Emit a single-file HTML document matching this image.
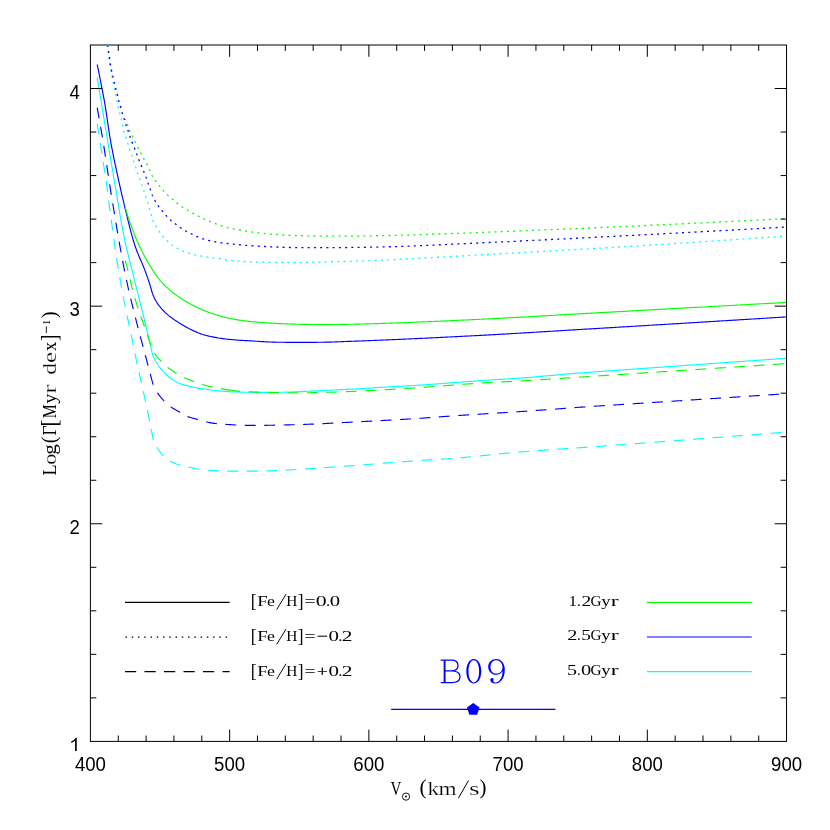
<!DOCTYPE html>
<html><head><meta charset="utf-8"><title>plot</title>
<style>html,body{margin:0;padding:0;background:#fff;overflow:hidden}svg{display:block;will-change:transform}</style>
</head><body>
<svg width="830" height="830" viewBox="0 0 830 830">
<rect x="0" y="0" width="830" height="830" fill="#ffffff"/>
<defs><clipPath id="c"><rect x="90.40" y="44.00" width="696.65" height="697.40"/></clipPath></defs>
<g fill="none" clip-path="url(#c)">
<path d="M97.20 77.60 L97.44 79.09 L97.69 80.59 L97.93 82.08 L98.18 83.58 L98.42 85.07 L98.67 86.57 L98.91 88.06 L99.16 89.56 L99.40 91.05 L99.65 92.55 L99.89 94.04 L100.14 95.54 L100.39 97.03 L100.63 98.53 L100.88 100.02 L101.12 101.52 L101.37 103.01 L101.62 104.51 L101.86 106.00 L102.11 107.50 L102.36 108.99 L102.60 110.48 L102.85 111.98 L103.10 113.47 L103.34 114.97 L103.59 116.46 L103.84 117.96 L104.09 119.45 L104.33 120.95 L104.58 122.44 L104.83 123.94 L105.08 125.43 L105.33 126.92 L105.57 128.42 L105.82 129.91 L106.07 131.41 L106.32 132.90 L106.57 134.40 L106.82 135.89 L107.06 137.38 L107.31 138.88 L107.56 140.37 L107.81 141.87 L108.06 143.36 L108.31 144.86 L108.56 146.35 L108.81 147.84 L109.06 149.34 L109.30 150.83 L109.55 152.33 L109.80 153.82 L110.05 155.31 L110.30 156.81 L110.55 158.30 L110.80 159.80 L111.05 161.29 L111.30 162.79 L111.55 164.28 L111.80 165.77 L112.05 167.27 L112.30 168.76 L112.55 170.26 L112.80 171.75 L113.06 173.24 L113.31 174.74 L113.56 176.23 L113.81 177.72 L114.07 179.22 L114.32 180.71 L114.57 182.20 L114.83 183.70 L115.08 185.19 L115.34 186.68 L115.60 188.18 L115.85 189.67 L116.11 191.16 L116.36 192.66 L116.61 194.15 L116.86 195.65 L117.11 197.14 L117.35 198.64 L117.60 200.13 L117.85 201.63 L118.09 203.12 L118.34 204.62 L118.59 206.11 L118.84 207.61 L119.08 209.11 L119.33 210.60 L119.58 212.10 L119.83 213.59 L120.09 215.08 L120.34 216.58 L120.60 218.07 L120.85 219.57 L121.11 221.06 L121.38 222.55 L121.64 224.04 L121.91 225.53 L122.18 227.02 L122.45 228.51 L122.73 230.00 L123.01 231.49 L123.29 232.97 L123.58 234.46 L123.88 235.94 L124.17 237.43 L124.48 238.91 L124.78 240.39 L125.10 241.87 L125.43 243.35 L125.76 244.83 L126.11 246.30 L126.46 247.77 L126.82 249.25 L127.18 250.72 L127.54 252.19 L127.91 253.66 L128.28 255.13 L128.65 256.60 L129.02 258.07 L129.39 259.54 L129.76 261.01 L130.12 262.48 L130.48 263.95 L130.84 265.42 L131.20 266.89 L131.57 268.36 L131.93 269.83 L132.30 271.30 L132.66 272.77 L133.03 274.24 L133.40 275.71 L133.77 277.18 L134.13 278.65 L134.50 280.12 L134.87 281.59 L135.24 283.06 L135.61 284.53 L135.99 286.00 L136.36 287.46 L136.73 288.93 L137.10 290.40 L137.47 291.87 L137.84 293.34 L138.21 294.81 L138.58 296.28 L138.95 297.75 L139.32 299.22 L139.69 300.69 L140.05 302.15 L140.42 303.62 L140.79 305.09 L141.15 306.56 L141.52 308.03 L141.88 309.50 L142.25 310.97 L142.61 312.45 L142.97 313.92 L143.33 315.39 L143.69 316.86 L144.05 318.33 L144.40 319.80 L144.76 321.28 L145.11 322.75 L145.46 324.22 L145.81 325.70 L146.16 327.17 L146.51 328.65 L146.85 330.12 L147.20 331.60 L147.54 333.07 L147.89 334.55 L148.23 336.02 L148.58 337.50 L148.92 338.97 L149.27 340.45 L149.61 341.92 L149.96 343.40 L150.30 344.87 L150.65 346.35 L150.99 347.82 L151.33 349.30 L151.67 350.77 L152.02 352.25 L152.36 353.72 L152.70 355.20 L153.31 356.60 L153.96 357.99 L154.64 359.34 L155.36 360.67 L156.11 361.98 L156.89 363.26 L157.69 364.52 L158.52 365.76 L159.38 366.97 L160.29 368.16 L161.25 369.33 L162.25 370.47 L163.28 371.58 L164.34 372.67 L165.41 373.72 L166.50 374.75 L167.61 375.78 L168.75 376.78 L169.93 377.75 L171.13 378.68 L172.35 379.54 L173.61 380.32 L174.90 381.06 L176.23 381.77 L177.59 382.44 L178.98 383.08 L180.38 383.66 L181.80 384.19 L183.21 384.67 L184.63 385.10 L186.08 385.51 L187.53 385.89 L188.99 386.25 L190.47 386.59 L191.95 386.91 L193.43 387.22 L194.92 387.51 L196.40 387.80 L197.88 388.07 L199.36 388.33 L200.84 388.59 L202.33 388.83 L203.82 389.06 L205.31 389.28 L206.80 389.49 L208.29 389.69 L209.79 389.87 L211.28 390.05 L212.77 390.22 L214.27 390.40 L215.77 390.56 L217.27 390.73 L218.77 390.88 L220.27 391.03 L221.77 391.16 L223.27 391.29 L224.77 391.40 L226.27 391.50 L227.77 391.58 L229.27 391.65 L230.78 391.72 L232.28 391.78 L233.78 391.85 L235.29 391.91 L236.79 391.97 L238.30 392.02 L239.80 392.07 L241.31 392.12 L242.81 392.16 L244.32 392.20 L245.82 392.23 L247.33 392.26 L248.84 392.28 L250.34 392.29 L251.85 392.30 L253.35 392.30 L254.86 392.30 L256.36 392.30 L257.87 392.30 L259.37 392.30 L260.88 392.30 L262.38 392.30 L263.89 392.30 L265.40 392.30 L266.90 392.30 L268.41 392.30 L269.91 392.30 L271.42 392.30 L272.92 392.30 L274.43 392.30 L275.93 392.30 L277.44 392.30 L278.94 392.29 L280.45 392.27 L281.95 392.24 L283.46 392.21 L284.96 392.17 L286.47 392.13 L287.97 392.08 L289.48 392.02 L290.98 391.97 L292.49 391.91 L293.99 391.85 L295.50 391.79 L297.00 391.73 L298.51 391.68 L300.01 391.62 L301.51 391.56 L303.02 391.50 L304.52 391.44 L306.03 391.37 L307.53 391.29 L309.03 391.22 L310.54 391.14 L312.04 391.06 L313.54 390.98 L315.05 390.90 L316.55 390.82 L318.05 390.74 L319.56 390.66 L321.06 390.58 L322.56 390.50 L324.07 390.43 L325.57 390.35 L327.07 390.28 L328.58 390.22 L330.08 390.15 L331.59 390.08 L333.09 390.02 L334.59 389.95 L336.10 389.89 L337.60 389.82 L339.11 389.75 L340.61 389.69 L342.11 389.62 L343.62 389.55 L345.12 389.48 L346.63 389.41 L348.13 389.33 L349.63 389.25 L351.13 389.17 L352.64 389.09 L354.14 389.00 L355.64 388.91 L357.15 388.82 L358.65 388.73 L360.15 388.64 L361.65 388.55 L363.16 388.45 L364.66 388.36 L366.16 388.26 L367.66 388.17 L369.17 388.07 L370.67 387.98 L372.17 387.88 L373.67 387.79 L375.18 387.69 L376.68 387.60 L378.18 387.51 L379.68 387.42 L381.19 387.33 L382.69 387.24 L384.19 387.16 L385.70 387.07 L387.20 386.99 L388.70 386.90 L390.21 386.82 L391.71 386.73 L393.21 386.65 L394.71 386.57 L396.22 386.48 L397.72 386.40 L399.22 386.32 L400.73 386.23 L402.23 386.15 L403.73 386.07 L405.24 385.98 L406.74 385.90 L408.24 385.81 L409.75 385.72 L411.25 385.64 L412.75 385.55 L414.25 385.46 L415.76 385.37 L417.26 385.27 L418.76 385.18 L420.26 385.08 L421.77 384.99 L423.27 384.89 L424.77 384.79 L426.27 384.68 L427.77 384.58 L429.27 384.48 L430.78 384.37 L432.28 384.26 L433.78 384.15 L435.28 384.05 L436.78 383.94 L438.28 383.82 L439.78 383.71 L441.29 383.60 L442.79 383.49 L444.29 383.37 L445.79 383.26 L447.29 383.14 L448.79 383.03 L450.29 382.91 L451.79 382.80 L453.29 382.68 L454.80 382.57 L456.30 382.45 L457.80 382.34 L459.30 382.22 L460.80 382.11 L462.30 381.99 L463.80 381.88 L465.30 381.76 L466.80 381.65 L468.31 381.54 L469.81 381.43 L471.31 381.32 L472.81 381.21 L474.31 381.10 L475.81 380.99 L477.31 380.89 L478.82 380.78 L480.32 380.68 L481.82 380.58 L483.32 380.48 L484.82 380.38 L486.33 380.28 L487.83 380.18 L489.33 380.09 L490.83 379.99 L492.34 379.90 L493.84 379.80 L495.34 379.71 L496.84 379.62 L498.35 379.52 L499.85 379.43 L501.35 379.34 L502.85 379.24 L504.36 379.15 L505.86 379.05 L507.36 378.96 L508.86 378.86 L510.37 378.76 L511.87 378.67 L513.37 378.56 L514.87 378.46 L516.37 378.36 L517.88 378.25 L519.38 378.15 L520.88 378.04 L522.38 377.92 L523.88 377.81 L525.38 377.69 L526.88 377.57 L528.38 377.45 L529.88 377.33 L531.38 377.21 L532.88 377.08 L534.38 376.96 L535.88 376.83 L537.38 376.70 L538.88 376.57 L540.38 376.44 L541.88 376.31 L543.38 376.18 L544.88 376.04 L546.38 375.91 L547.88 375.78 L549.38 375.64 L550.88 375.51 L552.38 375.37 L553.88 375.24 L555.38 375.10 L556.88 374.97 L558.38 374.83 L559.88 374.70 L561.38 374.57 L562.88 374.43 L564.38 374.30 L565.88 374.17 L567.38 374.04 L568.88 373.91 L570.38 373.79 L571.88 373.66 L573.38 373.53 L574.88 373.41 L576.38 373.29 L577.88 373.17 L579.38 373.05 L580.88 372.93 L582.38 372.82 L583.88 372.70 L585.38 372.59 L586.88 372.48 L588.38 372.36 L589.88 372.25 L591.39 372.14 L592.89 372.03 L594.39 371.92 L595.89 371.81 L597.39 371.71 L598.89 371.60 L600.40 371.49 L601.90 371.38 L603.40 371.28 L604.90 371.17 L606.40 371.07 L607.90 370.96 L609.41 370.85 L610.91 370.75 L612.41 370.64 L613.91 370.53 L615.41 370.43 L616.91 370.32 L618.42 370.21 L619.92 370.11 L621.42 370.00 L622.92 369.89 L624.42 369.78 L625.92 369.67 L627.42 369.57 L628.93 369.46 L630.43 369.35 L631.93 369.24 L633.43 369.14 L634.93 369.03 L636.43 368.92 L637.94 368.81 L639.44 368.71 L640.94 368.60 L642.44 368.49 L643.94 368.38 L645.44 368.28 L646.94 368.17 L648.45 368.06 L649.95 367.95 L651.45 367.85 L652.95 367.74 L654.45 367.63 L655.95 367.52 L657.46 367.42 L658.96 367.31 L660.46 367.20 L661.96 367.09 L663.46 366.99 L664.96 366.88 L666.47 366.77 L667.97 366.67 L669.47 366.56 L670.97 366.45 L672.47 366.34 L673.97 366.24 L675.47 366.13 L676.98 366.02 L678.48 365.92 L679.98 365.81 L681.48 365.70 L682.98 365.59 L684.48 365.49 L685.99 365.38 L687.49 365.27 L688.99 365.17 L690.49 365.06 L691.99 364.95 L693.49 364.85 L695.00 364.74 L696.50 364.63 L698.00 364.53 L699.50 364.42 L701.00 364.31 L702.50 364.21 L704.01 364.10 L705.51 363.99 L707.01 363.89 L708.51 363.78 L710.01 363.68 L711.51 363.57 L713.02 363.46 L714.52 363.36 L716.02 363.25 L717.52 363.14 L719.02 363.04 L720.52 362.93 L722.03 362.83 L723.53 362.72 L725.03 362.61 L726.53 362.51 L728.03 362.40 L729.53 362.30 L731.04 362.19 L732.54 362.08 L734.04 361.98 L735.54 361.87 L737.04 361.77 L738.54 361.66 L740.05 361.56 L741.55 361.45 L743.05 361.34 L744.55 361.24 L746.05 361.13 L747.55 361.03 L749.06 360.92 L750.56 360.82 L752.06 360.71 L753.56 360.61 L755.06 360.50 L756.56 360.40 L758.07 360.29 L759.57 360.19 L761.07 360.08 L762.57 359.98 L764.07 359.87 L765.58 359.77 L767.08 359.66 L768.58 359.56 L770.08 359.45 L771.58 359.35 L773.08 359.24 L774.59 359.14 L776.09 359.03 L777.59 358.93 L779.09 358.82 L780.59 358.72 L782.09 358.61 L783.60 358.51 L785.10 358.40 L786.60 358.30" stroke="#00ffff" stroke-width="1.15" stroke-linejoin="round"/>
<path d="M107.00 45.80 L107.25 47.29 L107.50 48.78 L107.73 50.28 L107.97 51.77 L108.19 53.27 L108.40 54.77 L108.61 56.27 L108.82 57.76 L109.03 59.26 L109.24 60.76 L109.45 62.26 L109.66 63.76 L109.89 65.25 L110.12 66.75 L110.37 68.24 L110.63 69.73 L110.90 71.22 L111.18 72.70 L111.48 74.19 L111.79 75.67 L112.09 77.15 L112.40 78.63 L112.72 80.11 L113.04 81.59 L113.36 83.07 L113.68 84.55 L114.01 86.02 L114.34 87.50 L114.65 88.98 L114.96 90.46 L115.26 91.95 L115.55 93.43 L115.84 94.91 L116.14 96.40 L116.44 97.88 L116.73 99.36 L117.03 100.85 L117.32 102.33 L117.61 103.82 L117.90 105.30 L118.21 106.78 L118.54 108.26 L118.90 109.73 L119.27 111.20 L119.64 112.66 L120.01 114.13 L120.37 115.60 L120.74 117.07 L121.11 118.53 L121.48 120.00 L121.86 121.46 L122.24 122.93 L122.60 124.40 L122.92 125.88 L123.19 127.37 L123.44 128.86 L123.71 130.35 L124.03 131.82 L124.43 133.28 L124.90 134.71 L125.40 136.15 L125.90 137.58 L126.36 139.02 L126.83 140.46 L127.29 141.90 L127.75 143.34 L128.21 144.78 L128.66 146.23 L129.12 147.67 L129.58 149.11 L130.05 150.55 L130.53 151.98 L131.02 153.41 L131.51 154.84 L131.99 156.28 L132.46 157.72 L132.93 159.16 L133.40 160.59 L133.88 162.03 L134.35 163.46 L134.84 164.90 L135.32 166.33 L135.79 167.77 L136.25 169.21 L136.70 170.66 L137.16 172.10 L137.65 173.53 L138.16 174.95 L138.69 176.37 L139.23 177.78 L139.76 179.20 L140.28 180.62 L140.79 182.05 L141.29 183.47 L141.79 184.90 L142.29 186.33 L142.78 187.76 L143.27 189.19 L143.77 190.62 L144.27 192.05 L144.79 193.47 L145.30 194.89 L145.80 196.32 L146.29 197.75 L146.77 199.19 L147.24 200.63 L147.69 202.07 L148.10 203.52 L148.46 204.99 L148.81 206.47 L149.17 207.94 L149.57 209.39 L150.01 210.84 L150.48 212.28 L150.94 213.72 L151.38 215.17 L151.80 216.62 L152.21 218.08 L152.61 219.54 L153.00 221.00" stroke="#00ffff" stroke-width="1.30" pathLength="29" stroke-dasharray="0.3175 0.6825" stroke-dashoffset="0.1587"/>
<path d="M153.00 221.00 L153.68 222.35 L154.38 223.68 L155.10 225.00 L155.85 226.31 L156.62 227.60 L157.42 228.88 L158.24 230.14 L159.08 231.39 L159.95 232.62 L160.83 233.84 L161.74 235.05 L162.69 236.22 L163.68 237.34 L164.72 238.43 L165.79 239.49 L166.89 240.53 L167.99 241.56 L169.10 242.58 L170.22 243.59 L171.38 244.55 L172.58 245.44 L173.83 246.29 L175.11 247.08 L176.41 247.85 L177.73 248.58 L179.05 249.29 L180.40 249.97 L181.76 250.62 L183.14 251.22 L184.54 251.77 L185.95 252.29 L187.38 252.78 L188.81 253.24 L190.25 253.68 L191.70 254.09 L193.16 254.48 L194.62 254.84 L196.09 255.16 L197.57 255.45 L199.05 255.72 L200.53 255.98 L202.02 256.24 L203.50 256.48 L204.99 256.72 L206.48 256.95 L207.97 257.17 L209.46 257.40 L210.95 257.63 L212.44 257.84 L213.93 258.03 L215.43 258.18 L216.93 258.32 L218.43 258.47 L219.92 258.66 L221.40 258.91 L222.88 259.21 L224.36 259.53 L225.84 259.83 L227.32 260.09 L228.81 260.27 L230.30 260.42 L231.79 260.57 L233.29 260.72 L234.79 260.85 L236.29 260.98 L237.79 261.10 L239.29 261.21 L240.80 261.32 L242.30 261.42 L243.81 261.51 L245.32 261.60 L246.82 261.68 L248.33 261.75 L249.83 261.81 L251.34 261.87 L252.84 261.92 L254.35 261.97 L255.85 262.01 L257.36 262.06 L258.86 262.10 L260.37 262.15 L261.87 262.19 L263.38 262.22 L264.88 262.26 L266.39 262.29 L267.89 262.32 L269.40 262.34 L270.91 262.36 L272.41 262.38 L273.92 262.39 L275.42 262.40 L276.93 262.40 L278.43 262.40 L279.94 262.40 L281.45 262.40 L282.95 262.40 L284.46 262.40 L285.96 262.40 L287.47 262.40 L288.97 262.40 L290.48 262.40 L291.99 262.40 L293.49 262.40 L295.00 262.40 L296.50 262.40 L298.01 262.40 L299.51 262.40 L301.02 262.40 L302.52 262.39 L304.03 262.38 L305.54 262.36 L307.04 262.34 L308.55 262.31 L310.05 262.27 L311.56 262.24 L313.06 262.20 L314.57 262.16 L316.07 262.12 L317.58 262.08 L319.08 262.03 L320.59 261.99 L322.09 261.96 L323.60 261.92 L325.10 261.89 L326.61 261.86 L328.12 261.83 L329.62 261.80 L331.13 261.77 L332.63 261.74 L334.14 261.72 L335.64 261.69 L337.15 261.66 L338.65 261.63 L340.16 261.60 L341.66 261.57 L343.17 261.53 L344.67 261.50 L346.18 261.46 L347.69 261.43 L349.19 261.39 L350.70 261.34 L352.20 261.30 L353.70 261.25 L355.21 261.20 L356.71 261.15 L358.22 261.10 L359.72 261.04 L361.23 260.99 L362.73 260.93 L364.24 260.87 L365.74 260.81 L367.25 260.75 L368.75 260.68 L370.26 260.62 L371.76 260.56 L373.26 260.49 L374.77 260.43 L376.27 260.36 L377.78 260.30 L379.28 260.23 L380.79 260.17 L382.29 260.10 L383.79 260.03 L385.30 259.97 L386.80 259.90 L388.31 259.83 L389.81 259.76 L391.31 259.69 L392.82 259.62 L394.32 259.55 L395.83 259.47 L397.33 259.40 L398.83 259.33 L400.34 259.25 L401.84 259.18 L403.34 259.10 L404.85 259.03 L406.35 258.95 L407.86 258.87 L409.36 258.80 L410.86 258.72 L412.37 258.64 L413.87 258.56 L415.37 258.48 L416.88 258.40 L418.38 258.32 L419.88 258.24 L421.39 258.16 L422.89 258.08 L424.40 258.00 L425.90 257.92 L427.40 257.83 L428.91 257.75 L430.41 257.67 L431.91 257.59 L433.42 257.50 L434.92 257.42 L436.42 257.34 L437.93 257.25 L439.43 257.17 L440.93 257.08 L442.44 257.00 L443.94 256.91 L445.44 256.83 L446.95 256.75 L448.45 256.66 L449.95 256.58 L451.46 256.49 L452.96 256.41 L454.46 256.32 L455.97 256.24 L457.47 256.15 L458.97 256.07 L460.48 255.98 L461.98 255.90 L463.48 255.82 L464.99 255.73 L466.49 255.65 L467.99 255.56 L469.50 255.48 L471.00 255.40 L472.50 255.31 L474.01 255.23 L475.51 255.15 L477.01 255.06 L478.52 254.98 L480.02 254.90 L481.52 254.82 L483.03 254.73 L484.53 254.65 L486.03 254.57 L487.54 254.49 L489.04 254.41 L490.54 254.32 L492.05 254.24 L493.55 254.16 L495.05 254.08 L496.56 254.00 L498.06 253.91 L499.57 253.83 L501.07 253.75 L502.57 253.67 L504.08 253.58 L505.58 253.50 L507.08 253.42 L508.59 253.34 L510.09 253.25 L511.59 253.17 L513.10 253.09 L514.60 253.01 L516.10 252.92 L517.61 252.84 L519.11 252.76 L520.61 252.67 L522.12 252.59 L523.62 252.51 L525.12 252.42 L526.63 252.34 L528.13 252.26 L529.63 252.17 L531.14 252.09 L532.64 252.01 L534.14 251.92 L535.65 251.84 L537.15 251.75 L538.65 251.67 L540.16 251.59 L541.66 251.50 L543.16 251.42 L544.67 251.33 L546.17 251.25 L547.67 251.16 L549.18 251.08 L550.68 250.99 L552.18 250.91 L553.69 250.82 L555.19 250.73 L556.69 250.65 L558.20 250.56 L559.70 250.48 L561.20 250.39 L562.71 250.30 L564.21 250.22 L565.71 250.13 L567.21 250.04 L568.72 249.96 L570.22 249.87 L571.72 249.78 L573.23 249.69 L574.73 249.61 L576.23 249.52 L577.74 249.43 L579.24 249.34 L580.74 249.25 L582.25 249.16 L583.75 249.07 L585.25 248.99 L586.75 248.90 L588.26 248.81 L589.76 248.72 L591.26 248.63 L592.77 248.54 L594.27 248.45 L595.77 248.36 L597.28 248.27 L598.78 248.18 L600.28 248.09 L601.78 248.00 L603.29 247.91 L604.79 247.82 L606.29 247.73 L607.80 247.63 L609.30 247.54 L610.80 247.45 L612.30 247.36 L613.81 247.27 L615.31 247.18 L616.81 247.09 L618.32 247.00 L619.82 246.91 L621.32 246.81 L622.82 246.72 L624.33 246.63 L625.83 246.54 L627.33 246.45 L628.84 246.36 L630.34 246.26 L631.84 246.17 L633.34 246.08 L634.85 245.99 L636.35 245.89 L637.85 245.80 L639.36 245.71 L640.86 245.62 L642.36 245.52 L643.86 245.43 L645.37 245.34 L646.87 245.24 L648.37 245.15 L649.88 245.06 L651.38 244.96 L652.88 244.87 L654.38 244.78 L655.89 244.68 L657.39 244.59 L658.89 244.49 L660.39 244.40 L661.90 244.31 L663.40 244.21 L664.90 244.12 L666.41 244.02 L667.91 243.93 L669.41 243.83 L670.91 243.74 L672.42 243.64 L673.92 243.55 L675.42 243.45 L676.92 243.36 L678.43 243.26 L679.93 243.17 L681.43 243.07 L682.93 242.98 L684.44 242.88 L685.94 242.79 L687.44 242.69 L688.95 242.59 L690.45 242.50 L691.95 242.40 L693.45 242.30 L694.96 242.21 L696.46 242.11 L697.96 242.01 L699.46 241.92 L700.97 241.82 L702.47 241.72 L703.97 241.63 L705.47 241.53 L706.98 241.43 L708.48 241.33 L709.98 241.24 L711.48 241.14 L712.99 241.04 L714.49 240.94 L715.99 240.84 L717.49 240.75 L719.00 240.65 L720.50 240.55 L722.00 240.45 L723.50 240.35 L725.01 240.25 L726.51 240.15 L728.01 240.06 L729.51 239.96 L731.02 239.86 L732.52 239.76 L734.02 239.66 L735.52 239.56 L737.03 239.46 L738.53 239.36 L740.03 239.26 L741.53 239.16 L743.03 239.06 L744.54 238.96 L746.04 238.86 L747.54 238.76 L749.04 238.66 L750.55 238.56 L752.05 238.45 L753.55 238.35 L755.05 238.25 L756.56 238.15 L758.06 238.05 L759.56 237.95 L761.06 237.85 L762.56 237.75 L764.07 237.64 L765.57 237.54 L767.07 237.44 L768.57 237.34 L770.08 237.23 L771.58 237.13 L773.08 237.03 L774.58 236.93 L776.08 236.82 L777.59 236.72 L779.09 236.62 L780.59 236.51 L782.09 236.41 L783.60 236.31 L785.10 236.20 L786.60 236.10" stroke="#00ffff" stroke-width="1.30" stroke-dasharray="2.000 4.2463" stroke-dashoffset="1.000"/>
<path d="M97.20 123.70 L97.43 125.19 L97.66 126.69 L97.89 128.18 L98.13 129.67 L98.36 131.17 L98.59 132.66 L98.82 134.15 L99.05 135.65 L99.29 137.14 L99.52 138.63 L99.75 140.13 L99.98 141.62 L100.21 143.11 L100.45 144.61 L100.68 146.10 L100.91 147.59 L101.14 149.09 L101.38 150.58 L101.61 152.07 L101.84 153.57 L102.08 155.06 L102.31 156.55 L102.55 158.05 L102.78 159.54 L103.02 161.03 L103.26 162.52 L103.49 164.02 L103.73 165.51 L103.96 167.00 L104.19 168.50 L104.42 169.99 L104.65 171.48 L104.87 172.98 L105.09 174.47 L105.32 175.97 L105.54 177.46 L105.76 178.96 L105.98 180.45 L106.19 181.95 L106.41 183.45 L106.62 184.94 L106.83 186.44 L107.04 187.94 L107.25 189.43 L107.46 190.93 L107.66 192.43 L107.85 193.93 L108.05 195.42 L108.24 196.92 L108.43 198.42 L108.61 199.92 L108.80 201.42 L108.98 202.92 L109.16 204.42 L109.35 205.92 L109.54 207.42 L109.73 208.92 L109.92 210.42 L110.12 211.92 L110.32 213.42 L110.53 214.91 L110.74 216.41 L110.95 217.91 L111.16 219.40 L111.37 220.90 L111.58 222.40 L111.79 223.89 L112.00 225.39 L112.21 226.89 L112.42 228.38 L112.63 229.88 L112.83 231.38 L113.04 232.88 L113.24 234.37 L113.44 235.87 L113.63 237.37 L113.83 238.87 L114.03 240.37 L114.23 241.87 L114.43 243.36 L114.63 244.86 L114.84 246.36 L115.05 247.85 L115.26 249.35 L115.48 250.85 L115.70 252.34 L115.92 253.84 L116.15 255.33 L116.38 256.82 L116.61 258.32 L116.84 259.81 L117.07 261.30 L117.31 262.80 L117.55 264.29 L117.79 265.78 L118.03 267.27 L118.28 268.76 L118.53 270.26 L118.78 271.75 L119.03 273.23 L119.29 274.72 L119.55 276.21 L119.81 277.70 L120.08 279.19 L120.34 280.68 L120.61 282.16 L120.88 283.65 L121.15 285.14 L121.41 286.63 L121.68 288.11 L121.95 289.60 L122.22 291.09 L122.49 292.58 L122.76 294.06 L123.03 295.55 L123.30 297.04 L123.58 298.52 L123.86 300.01 L124.13 301.49 L124.42 302.98 L124.70 304.46 L124.99 305.95 L125.29 307.43 L125.59 308.91 L125.89 310.39 L126.20 311.87 L126.52 313.34 L126.84 314.82 L127.16 316.30 L127.49 317.77 L127.82 319.25 L128.14 320.73 L128.47 322.20 L128.79 323.68 L129.11 325.15 L129.43 326.63 L129.74 328.11 L130.06 329.59 L130.37 331.07 L130.69 332.55 L131.00 334.02 L131.31 335.50 L131.63 336.98 L131.94 338.46 L132.25 339.94 L132.56 341.42 L132.86 342.90 L133.17 344.38 L133.47 345.86 L133.77 347.34 L134.07 348.82 L134.36 350.30 L134.65 351.79 L134.94 353.27 L135.23 354.76 L135.52 356.24 L135.81 357.72 L136.11 359.20 L136.41 360.69 L136.71 362.17 L137.02 363.64 L137.33 365.12 L137.66 366.60 L137.99 368.07 L138.32 369.55 L138.67 371.02 L139.01 372.49 L139.36 373.96 L139.70 375.43 L140.05 376.90 L140.40 378.37 L140.74 379.85 L141.08 381.32 L141.42 382.79 L141.75 384.27 L142.08 385.74 L142.40 387.22 L142.73 388.69 L143.05 390.17 L143.37 391.65 L143.69 393.12 L144.01 394.60 L144.33 396.08 L144.65 397.56 L144.96 399.03 L145.28 400.51 L145.59 401.99 L145.91 403.47 L146.22 404.95 L146.53 406.43 L146.84 407.90 L147.16 409.38 L147.47 410.86 L147.77 412.34 L148.08 413.82 L148.39 415.30 L148.70 416.78 L149.00 418.26 L149.30 419.74 L149.60 421.22 L149.90 422.70 L150.20 424.19 L150.50 425.67 L150.79 427.15 L151.09 428.63 L151.38 430.11 L151.67 431.60 L151.97 433.08 L152.25 434.56 L152.54 436.05 L152.83 437.53 L153.12 439.02 L153.40 440.50" stroke="#00ffff" stroke-width="1.15" stroke-dasharray="10.8 8.6"/>
<path d="M153.40 440.50 L154.00 441.90 L154.64 443.27 L155.33 444.62 L156.05 445.94 L156.81 447.23 L157.60 448.48 L158.45 449.73 L159.34 450.97 L160.27 452.18 L161.23 453.36 L162.24 454.49 L163.27 455.58 L164.33 456.61 L165.44 457.62 L166.61 458.59 L167.83 459.52 L169.08 460.38 L170.36 461.16 L171.66 461.85 L173.01 462.50 L174.39 463.12 L175.79 463.70 L177.22 464.24 L178.66 464.73 L180.10 465.19 L181.54 465.59 L183.00 465.95 L184.47 466.27 L185.95 466.56 L187.44 466.85 L188.92 467.14 L190.39 467.46 L191.86 467.79 L193.33 468.14 L194.81 468.47 L196.28 468.79 L197.76 469.07 L199.24 469.30 L200.73 469.48 L202.23 469.63 L203.73 469.76 L205.23 469.87 L206.74 469.98 L208.24 470.09 L209.74 470.20 L211.25 470.30 L212.75 470.41 L214.25 470.51 L215.75 470.60 L217.26 470.69 L218.76 470.77 L220.27 470.83 L221.77 470.91 L223.28 470.97 L224.78 471.03 L226.29 471.08 L227.79 471.10 L229.30 471.10 L230.80 471.10 L232.31 471.10 L233.82 471.10 L235.32 471.10 L236.83 471.10 L238.34 471.10 L239.84 471.10 L241.35 471.10 L242.86 471.10 L244.36 471.10 L245.87 471.10 L247.37 471.10 L248.88 471.10 L250.39 471.10 L251.89 471.10 L253.40 471.10 L254.91 471.10 L256.41 471.10 L257.92 471.10 L259.42 471.10 L260.93 471.09 L262.43 471.07 L263.94 471.05 L265.44 471.01 L266.95 470.97 L268.45 470.93 L269.96 470.88 L271.46 470.82 L272.97 470.76 L274.47 470.69 L275.98 470.62 L277.48 470.55 L278.99 470.47 L280.49 470.39 L282.00 470.31 L283.50 470.22 L285.01 470.14 L286.51 470.05 L288.02 469.96 L289.52 469.88 L291.03 469.79 L292.53 469.70 L294.03 469.62 L295.54 469.53 L297.04 469.45 L298.55 469.37 L300.05 469.29 L301.55 469.21 L303.06 469.12 L304.56 469.03 L306.06 468.94 L307.57 468.85 L309.07 468.75 L310.57 468.66 L312.07 468.56 L313.58 468.46 L315.08 468.36 L316.58 468.25 L318.08 468.15 L319.59 468.04 L321.09 467.94 L322.59 467.83 L324.09 467.72 L325.60 467.61 L327.10 467.50 L328.60 467.39 L330.10 467.28 L331.61 467.17 L333.11 467.05 L334.61 466.94 L336.11 466.83 L337.61 466.72 L339.12 466.60 L340.62 466.49 L342.12 466.38 L343.62 466.27 L345.13 466.16 L346.63 466.05 L348.13 465.94 L349.63 465.83 L351.13 465.72 L352.64 465.61 L354.14 465.50 L355.64 465.39 L357.14 465.27 L358.64 465.16 L360.15 465.05 L361.65 464.93 L363.15 464.82 L364.65 464.70 L366.15 464.59 L367.65 464.47 L369.16 464.36 L370.66 464.24 L372.16 464.12 L373.66 464.01 L375.16 463.89 L376.66 463.77 L378.17 463.65 L379.67 463.53 L381.17 463.42 L382.67 463.30 L384.17 463.18 L385.67 463.06 L387.18 462.94 L388.68 462.83 L390.18 462.71 L391.68 462.59 L393.18 462.48 L394.68 462.36 L396.19 462.24 L397.69 462.13 L399.19 462.01 L400.69 461.90 L402.19 461.79 L403.69 461.67 L405.20 461.56 L406.70 461.45 L408.20 461.34 L409.70 461.23 L411.20 461.12 L412.71 461.01 L414.21 460.90 L415.71 460.80 L417.21 460.69 L418.72 460.59 L420.22 460.49 L421.72 460.38 L423.22 460.29 L424.73 460.19 L426.23 460.10 L427.73 460.01 L429.24 459.91 L430.74 459.82 L432.25 459.73 L433.75 459.65 L435.25 459.56 L436.76 459.47 L438.26 459.38 L439.76 459.28 L441.27 459.19 L442.77 459.10 L444.27 459.00 L445.78 458.90 L447.28 458.79 L448.78 458.69 L450.28 458.58 L451.78 458.47 L453.28 458.35 L454.78 458.23 L456.29 458.11 L457.79 457.98 L459.29 457.85 L460.79 457.72 L462.29 457.59 L463.79 457.45 L465.29 457.32 L466.79 457.18 L468.29 457.04 L469.78 456.89 L471.28 456.75 L472.78 456.60 L474.28 456.45 L475.78 456.30 L477.28 456.15 L478.78 456.00 L480.28 455.85 L481.78 455.70 L483.28 455.55 L484.77 455.39 L486.27 455.24 L487.77 455.08 L489.27 454.93 L490.77 454.78 L492.27 454.62 L493.77 454.47 L495.26 454.32 L496.76 454.17 L498.26 454.01 L499.76 453.86 L501.26 453.71 L502.76 453.57 L504.26 453.42 L505.76 453.28 L507.26 453.13 L508.76 452.99 L510.26 452.85 L511.76 452.71 L513.26 452.58 L514.76 452.45 L516.26 452.31 L517.76 452.19 L519.26 452.06 L520.76 451.94 L522.26 451.82 L523.76 451.70 L525.26 451.58 L526.76 451.46 L528.26 451.34 L529.77 451.23 L531.27 451.11 L532.77 451.00 L534.27 450.88 L535.77 450.77 L537.27 450.66 L538.78 450.55 L540.28 450.44 L541.78 450.33 L543.28 450.22 L544.79 450.11 L546.29 450.01 L547.79 449.90 L549.29 449.79 L550.79 449.69 L552.30 449.58 L553.80 449.48 L555.30 449.37 L556.81 449.27 L558.31 449.16 L559.81 449.06 L561.31 448.96 L562.82 448.85 L564.32 448.75 L565.82 448.65 L567.32 448.55 L568.83 448.44 L570.33 448.34 L571.83 448.24 L573.34 448.13 L574.84 448.03 L576.34 447.93 L577.84 447.83 L579.35 447.72 L580.85 447.62 L582.35 447.51 L583.85 447.41 L585.36 447.31 L586.86 447.20 L588.36 447.09 L589.86 446.99 L591.37 446.88 L592.87 446.78 L594.37 446.67 L595.87 446.56 L597.38 446.45 L598.88 446.34 L600.38 446.23 L601.88 446.12 L603.38 446.02 L604.89 445.91 L606.39 445.80 L607.89 445.69 L609.39 445.58 L610.90 445.47 L612.40 445.36 L613.90 445.25 L615.40 445.14 L616.90 445.03 L618.41 444.92 L619.91 444.81 L621.41 444.70 L622.91 444.58 L624.41 444.47 L625.92 444.36 L627.42 444.25 L628.92 444.14 L630.42 444.02 L631.92 443.91 L633.43 443.80 L634.93 443.69 L636.43 443.58 L637.93 443.46 L639.43 443.35 L640.94 443.24 L642.44 443.13 L643.94 443.01 L645.44 442.90 L646.94 442.79 L648.45 442.68 L649.95 442.56 L651.45 442.45 L652.95 442.34 L654.45 442.23 L655.96 442.11 L657.46 442.00 L658.96 441.89 L660.46 441.77 L661.96 441.66 L663.46 441.55 L664.97 441.43 L666.47 441.32 L667.97 441.21 L669.47 441.09 L670.97 440.98 L672.48 440.87 L673.98 440.75 L675.48 440.64 L676.98 440.53 L678.48 440.41 L679.99 440.30 L681.49 440.18 L682.99 440.07 L684.49 439.96 L685.99 439.84 L687.49 439.73 L689.00 439.61 L690.50 439.50 L692.00 439.39 L693.50 439.27 L695.00 439.16 L696.51 439.04 L698.01 438.93 L699.51 438.81 L701.01 438.70 L702.51 438.58 L704.01 438.47 L705.52 438.35 L707.02 438.24 L708.52 438.12 L710.02 438.01 L711.52 437.89 L713.02 437.78 L714.53 437.66 L716.03 437.54 L717.53 437.43 L719.03 437.31 L720.53 437.20 L722.03 437.08 L723.54 436.96 L725.04 436.85 L726.54 436.73 L728.04 436.62 L729.54 436.50 L731.04 436.38 L732.55 436.27 L734.05 436.15 L735.55 436.03 L737.05 435.92 L738.55 435.80 L740.05 435.68 L741.56 435.56 L743.06 435.45 L744.56 435.33 L746.06 435.21 L747.56 435.09 L749.06 434.98 L750.57 434.86 L752.07 434.74 L753.57 434.62 L755.07 434.50 L756.57 434.39 L758.07 434.27 L759.57 434.15 L761.08 434.03 L762.58 433.91 L764.08 433.79 L765.58 433.68 L767.08 433.56 L768.58 433.44 L770.08 433.32 L771.59 433.20 L773.09 433.08 L774.59 432.96 L776.09 432.84 L777.59 432.72 L779.09 432.60 L780.59 432.48 L782.10 432.36 L783.60 432.24 L785.10 432.12 L786.60 432.00" stroke="#00ffff" stroke-width="1.15" stroke-dasharray="10.906 8.555" stroke-dashoffset="11.913"/>
<path d="M97.20 64.50 L97.51 65.98 L97.81 67.46 L98.12 68.95 L98.42 70.43 L98.72 71.91 L99.02 73.39 L99.32 74.88 L99.62 76.36 L99.91 77.85 L100.21 79.33 L100.50 80.81 L100.79 82.30 L101.08 83.78 L101.37 85.27 L101.66 86.75 L101.95 88.24 L102.24 89.72 L102.52 91.21 L102.81 92.70 L103.10 94.18 L103.38 95.67 L103.66 97.16 L103.94 98.64 L104.22 100.13 L104.48 101.62 L104.75 103.11 L105.00 104.60 L105.25 106.09 L105.49 107.59 L105.73 109.08 L105.96 110.58 L106.19 112.07 L106.41 113.57 L106.63 115.07 L106.85 116.56 L107.07 118.06 L107.28 119.56 L107.50 121.06 L107.71 122.56 L107.93 124.06 L108.14 125.55 L108.36 127.05 L108.58 128.55 L108.80 130.05 L109.03 131.54 L109.26 133.04 L109.49 134.53 L109.73 136.03 L109.98 137.52 L110.23 139.01 L110.49 140.50 L110.75 141.99 L111.02 143.48 L111.29 144.96 L111.57 146.45 L111.85 147.94 L112.14 149.42 L112.43 150.91 L112.72 152.39 L113.01 153.88 L113.31 155.36 L113.62 156.84 L113.92 158.33 L114.23 159.81 L114.54 161.29 L114.85 162.77 L115.16 164.25 L115.48 165.73 L115.79 167.21 L116.11 168.69 L116.42 170.17 L116.74 171.65 L117.06 173.13 L117.38 174.61 L117.70 176.09 L118.02 177.57 L118.34 179.05 L118.66 180.53 L118.99 182.00 L119.32 183.48 L119.64 184.96 L119.98 186.43 L120.31 187.91 L120.64 189.39 L120.98 190.86 L121.32 192.34 L121.66 193.81 L122.00 195.29 L122.35 196.76 L122.69 198.23 L123.04 199.71 L123.39 201.18 L123.74 202.65 L124.09 204.12 L124.44 205.59 L124.79 207.06 L125.15 208.53 L125.50 210.01 L125.86 211.48 L126.21 212.95 L126.56 214.42 L126.92 215.89 L127.27 217.37 L127.63 218.84 L127.99 220.31 L128.35 221.78 L128.71 223.25 L129.08 224.72 L129.45 226.19 L129.82 227.65 L130.20 229.12 L130.58 230.58 L130.97 232.05 L131.36 233.51 L131.76 234.96 L132.17 236.42 L132.58 237.87 L133.00 239.33 L133.43 240.77 L133.87 242.22 L134.33 243.67 L134.80 245.11 L135.28 246.54 L135.78 247.97 L136.28 249.40 L136.80 250.82 L137.34 252.23 L137.90 253.63 L138.48 255.03 L139.06 256.42 L139.66 257.82 L140.26 259.21 L140.87 260.59 L141.47 261.98 L142.07 263.37 L142.67 264.77 L143.25 266.16 L143.82 267.57 L144.37 268.97 L144.91 270.39 L145.45 271.80 L145.97 273.22 L146.50 274.64 L147.01 276.07 L147.52 277.49 L148.01 278.92 L148.50 280.36 L148.97 281.79 L149.44 283.23 L149.89 284.67 L150.33 286.12 L150.77 287.57 L151.19 289.02 L151.60 290.48 L152.01 291.94 L152.40 293.40 L152.94 294.82 L153.53 296.22 L154.16 297.59 L154.83 298.94 L155.53 300.26 L156.27 301.56 L157.06 302.83 L157.91 304.08 L158.81 305.31 L159.74 306.50 L160.69 307.67 L161.66 308.80 L162.68 309.91 L163.72 311.00 L164.80 312.07 L165.89 313.12 L167.01 314.13 L168.15 315.12 L169.30 316.07 L170.47 317.00 L171.68 317.90 L172.91 318.78 L174.15 319.64 L175.41 320.49 L176.67 321.32 L177.94 322.13 L179.20 322.94 L180.48 323.74 L181.76 324.53 L183.06 325.31 L184.36 326.08 L185.67 326.83 L186.99 327.56 L188.32 328.26 L189.66 328.94 L191.01 329.59 L192.37 330.24 L193.73 330.89 L195.11 331.53 L196.50 332.15 L197.90 332.75 L199.30 333.31 L200.71 333.84 L202.13 334.32 L203.56 334.75 L204.99 335.13 L206.44 335.50 L207.89 335.85 L209.35 336.19 L210.82 336.52 L212.30 336.83 L213.78 337.13 L215.27 337.42 L216.76 337.69 L218.25 337.95 L219.75 338.20 L221.25 338.43 L222.74 338.64 L224.24 338.84 L225.74 339.03 L227.23 339.20 L228.73 339.35 L230.22 339.50 L231.72 339.63 L233.21 339.76 L234.71 339.88 L236.21 340.00 L237.72 340.11 L239.22 340.21 L240.73 340.31 L242.23 340.41 L243.74 340.50 L245.24 340.59 L246.75 340.68 L248.25 340.77 L249.76 340.85 L251.26 340.94 L252.76 341.03 L254.27 341.12 L255.77 341.21 L257.27 341.30 L258.78 341.40 L260.28 341.49 L261.78 341.58 L263.29 341.67 L264.79 341.76 L266.30 341.84 L267.80 341.92 L269.31 341.99 L270.81 342.05 L272.31 342.10 L273.82 342.15 L275.32 342.18 L276.83 342.21 L278.33 342.23 L279.84 342.25 L281.34 342.27 L282.85 342.28 L284.36 342.30 L285.86 342.32 L287.37 342.33 L288.87 342.35 L290.38 342.36 L291.89 342.37 L293.39 342.38 L294.90 342.39 L296.40 342.39 L297.91 342.40 L299.42 342.40 L300.92 342.40 L302.43 342.40 L303.93 342.39 L305.44 342.39 L306.95 342.38 L308.45 342.37 L309.96 342.36 L311.46 342.35 L312.97 342.34 L314.47 342.32 L315.98 342.31 L317.49 342.29 L318.99 342.27 L320.50 342.25 L322.00 342.23 L323.51 342.21 L325.01 342.19 L326.52 342.17 L328.02 342.14 L329.53 342.10 L331.04 342.06 L332.54 342.01 L334.05 341.96 L335.55 341.91 L337.06 341.85 L338.56 341.79 L340.07 341.73 L341.57 341.67 L343.07 341.61 L344.58 341.55 L346.08 341.50 L347.59 341.44 L349.09 341.39 L350.60 341.33 L352.10 341.28 L353.61 341.22 L355.11 341.17 L356.62 341.11 L358.12 341.06 L359.63 341.00 L361.13 340.95 L362.64 340.89 L364.14 340.83 L365.65 340.78 L367.15 340.72 L368.66 340.66 L370.16 340.60 L371.67 340.54 L373.17 340.48 L374.68 340.42 L376.18 340.36 L377.68 340.30 L379.19 340.23 L380.69 340.17 L382.20 340.11 L383.70 340.04 L385.21 339.98 L386.71 339.92 L388.22 339.85 L389.72 339.79 L391.22 339.72 L392.73 339.66 L394.23 339.59 L395.74 339.52 L397.24 339.46 L398.75 339.39 L400.25 339.32 L401.76 339.26 L403.26 339.19 L404.76 339.12 L406.27 339.05 L407.77 338.98 L409.28 338.92 L410.78 338.85 L412.29 338.78 L413.79 338.71 L415.29 338.64 L416.80 338.57 L418.30 338.50 L419.81 338.43 L421.31 338.35 L422.82 338.28 L424.32 338.21 L425.82 338.14 L427.33 338.07 L428.83 338.00 L430.34 337.92 L431.84 337.85 L433.34 337.78 L434.85 337.70 L436.35 337.63 L437.86 337.56 L439.36 337.48 L440.86 337.41 L442.37 337.33 L443.87 337.26 L445.38 337.18 L446.88 337.11 L448.38 337.03 L449.89 336.96 L451.39 336.88 L452.90 336.80 L454.40 336.73 L455.90 336.65 L457.41 336.58 L458.91 336.50 L460.42 336.42 L461.92 336.34 L463.42 336.27 L464.93 336.19 L466.43 336.11 L467.94 336.03 L469.44 335.95 L470.94 335.88 L472.45 335.80 L473.95 335.72 L475.45 335.64 L476.96 335.56 L478.46 335.48 L479.97 335.40 L481.47 335.32 L482.97 335.24 L484.48 335.16 L485.98 335.08 L487.48 335.00 L488.99 334.92 L490.49 334.83 L491.99 334.75 L493.50 334.67 L495.00 334.58 L496.50 334.50 L498.01 334.41 L499.51 334.33 L501.01 334.24 L502.52 334.16 L504.02 334.07 L505.52 333.99 L507.03 333.90 L508.53 333.81 L510.03 333.73 L511.54 333.64 L513.04 333.55 L514.54 333.46 L516.05 333.37 L517.55 333.29 L519.05 333.20 L520.56 333.11 L522.06 333.02 L523.56 332.93 L525.07 332.84 L526.57 332.75 L528.07 332.66 L529.58 332.57 L531.08 332.48 L532.58 332.39 L534.09 332.30 L535.59 332.21 L537.09 332.11 L538.60 332.02 L540.10 331.93 L541.60 331.84 L543.10 331.75 L544.61 331.66 L546.11 331.57 L547.61 331.47 L549.12 331.38 L550.62 331.29 L552.12 331.20 L553.63 331.11 L555.13 331.01 L556.63 330.92 L558.14 330.83 L559.64 330.74 L561.14 330.65 L562.64 330.55 L564.15 330.46 L565.65 330.37 L567.15 330.28 L568.66 330.19 L570.16 330.10 L571.66 330.01 L573.17 329.91 L574.67 329.82 L576.17 329.73 L577.68 329.64 L579.18 329.55 L580.68 329.46 L582.18 329.37 L583.69 329.28 L585.19 329.19 L586.69 329.10 L588.20 329.01 L589.70 328.92 L591.20 328.83 L592.71 328.74 L594.21 328.65 L595.71 328.56 L597.22 328.47 L598.72 328.38 L600.22 328.29 L601.73 328.20 L603.23 328.11 L604.73 328.02 L606.24 327.93 L607.74 327.84 L609.24 327.74 L610.74 327.65 L612.25 327.56 L613.75 327.47 L615.25 327.38 L616.76 327.29 L618.26 327.20 L619.76 327.11 L621.27 327.02 L622.77 326.93 L624.27 326.84 L625.78 326.75 L627.28 326.66 L628.78 326.57 L630.29 326.48 L631.79 326.39 L633.29 326.30 L634.79 326.21 L636.30 326.11 L637.80 326.02 L639.30 325.93 L640.81 325.84 L642.31 325.75 L643.81 325.66 L645.32 325.57 L646.82 325.48 L648.32 325.39 L649.83 325.30 L651.33 325.20 L652.83 325.11 L654.33 325.02 L655.84 324.93 L657.34 324.84 L658.84 324.75 L660.35 324.66 L661.85 324.57 L663.35 324.48 L664.86 324.38 L666.36 324.29 L667.86 324.20 L669.37 324.11 L670.87 324.02 L672.37 323.93 L673.87 323.84 L675.38 323.75 L676.88 323.65 L678.38 323.56 L679.89 323.47 L681.39 323.38 L682.89 323.29 L684.40 323.20 L685.90 323.10 L687.40 323.01 L688.91 322.92 L690.41 322.83 L691.91 322.74 L693.41 322.65 L694.92 322.55 L696.42 322.46 L697.92 322.37 L699.43 322.28 L700.93 322.19 L702.43 322.09 L703.94 322.00 L705.44 321.91 L706.94 321.82 L708.44 321.73 L709.95 321.63 L711.45 321.54 L712.95 321.45 L714.46 321.36 L715.96 321.27 L717.46 321.17 L718.97 321.08 L720.47 320.99 L721.97 320.90 L723.48 320.80 L724.98 320.71 L726.48 320.62 L727.98 320.53 L729.49 320.44 L730.99 320.34 L732.49 320.25 L734.00 320.16 L735.50 320.07 L737.00 319.97 L738.51 319.88 L740.01 319.79 L741.51 319.69 L743.01 319.60 L744.52 319.51 L746.02 319.42 L747.52 319.32 L749.03 319.23 L750.53 319.14 L752.03 319.05 L753.53 318.95 L755.04 318.86 L756.54 318.77 L758.04 318.67 L759.55 318.58 L761.05 318.49 L762.55 318.39 L764.06 318.30 L765.56 318.21 L767.06 318.11 L768.56 318.02 L770.07 317.93 L771.57 317.83 L773.07 317.74 L774.58 317.65 L776.08 317.55 L777.58 317.46 L779.09 317.37 L780.59 317.27 L782.09 317.18 L783.59 317.09 L785.10 316.99 L786.60 316.90" stroke="#0000ff" stroke-width="1.15" stroke-linejoin="round"/>
<path d="M107.70 45.80 L107.95 47.30 L108.20 48.80 L108.44 50.30 L108.67 51.80 L108.89 53.31 L109.11 54.81 L109.32 56.32 L109.53 57.82 L109.74 59.33 L109.95 60.84 L110.15 62.34 L110.37 63.85 L110.61 65.35 L110.86 66.85 L111.14 68.34 L111.43 69.84 L111.73 71.33 L112.04 72.81 L112.36 74.30 L112.70 75.78 L113.03 77.27 L113.36 78.75 L113.70 80.23 L114.04 81.71 L114.39 83.19 L114.75 84.67 L115.12 86.15 L115.49 87.62 L115.87 89.09 L116.26 90.56 L116.66 92.03 L117.06 93.50 L117.44 94.97 L117.80 96.45 L118.13 97.93 L118.46 99.41 L118.82 100.89 L119.22 102.36 L119.66 103.81 L120.12 105.26 L120.56 106.72 L120.97 108.18 L121.34 109.66 L121.71 111.13 L122.10 112.60 L122.53 114.06 L123.01 115.50 L123.51 116.94 L124.00 118.38 L124.46 119.83 L124.90 121.28 L125.32 122.74 L125.75 124.20 L126.22 125.65 L126.71 127.09 L127.23 128.51 L127.76 129.94 L128.26 131.38 L128.74 132.82 L129.22 134.26 L129.70 135.71 L130.18 137.15 L130.68 138.59 L131.18 140.02 L131.69 141.45 L132.23 142.87 L132.81 144.28 L133.43 145.67 L134.05 147.06 L134.64 148.46 L135.20 149.87 L135.74 151.29 L136.27 152.71 L136.80 154.14 L137.33 155.57 L137.84 157.00 L138.36 158.43 L138.89 159.85 L139.45 161.27 L140.03 162.67 L140.63 164.07 L141.23 165.47 L141.82 166.87 L142.41 168.27 L142.99 169.67 L143.57 171.08 L144.14 172.49 L144.71 173.90 L145.28 175.31 L145.84 176.72 L146.36 178.15 L146.85 179.59 L147.32 181.04 L147.79 182.48 L148.28 183.92 L148.79 185.35 L149.31 186.78 L149.83 188.21 L150.34 189.64 L150.84 191.08 L151.34 192.52 L151.82 193.96 L152.30 195.40" stroke="#0000ff" stroke-width="1.30" pathLength="25" stroke-dasharray="0.3175 0.6825" stroke-dashoffset="0.1587"/>
<path d="M152.30 195.40 L152.94 196.77 L153.60 198.12 L154.30 199.45 L155.03 200.77 L155.78 202.07 L156.57 203.35 L157.40 204.62 L158.25 205.85 L159.14 207.06 L160.09 208.23 L161.06 209.39 L162.03 210.54 L162.97 211.71 L163.91 212.90 L164.84 214.08 L165.80 215.24 L166.81 216.35 L167.84 217.45 L168.90 218.52 L169.99 219.56 L171.11 220.57 L172.26 221.54 L173.44 222.47 L174.63 223.39 L175.83 224.30 L177.04 225.21 L178.25 226.10 L179.47 226.98 L180.71 227.84 L181.96 228.67 L183.23 229.48 L184.51 230.28 L185.81 231.04 L187.13 231.76 L188.46 232.46 L189.81 233.13 L191.17 233.79 L192.52 234.45 L193.88 235.10 L195.24 235.74 L196.62 236.35 L198.00 236.94 L199.40 237.51 L200.80 238.06 L202.21 238.57 L203.64 239.04 L205.08 239.47 L206.53 239.88 L207.99 240.27 L209.45 240.64 L210.91 241.00 L212.38 241.34 L213.85 241.65 L215.33 241.92 L216.81 242.16 L218.30 242.39 L219.79 242.60 L221.28 242.79 L222.78 242.98 L224.28 243.16 L225.77 243.33 L227.27 243.50 L228.77 243.66 L230.26 243.82 L231.76 243.98 L233.26 244.14 L234.75 244.30 L236.25 244.45 L237.75 244.60 L239.25 244.74 L240.75 244.88 L242.25 245.02 L243.75 245.15 L245.25 245.28 L246.75 245.40 L248.25 245.52 L249.75 245.63 L251.25 245.73 L252.75 245.83 L254.26 245.92 L255.76 246.01 L257.26 246.10 L258.76 246.19 L260.27 246.27 L261.77 246.35 L263.27 246.43 L264.78 246.50 L266.28 246.58 L267.78 246.65 L269.29 246.71 L270.79 246.78 L272.30 246.84 L273.80 246.90 L275.31 246.96 L276.81 247.02 L278.31 247.07 L279.82 247.13 L281.32 247.19 L282.83 247.25 L284.33 247.31 L285.84 247.37 L287.34 247.42 L288.85 247.47 L290.35 247.52 L291.86 247.57 L293.36 247.61 L294.86 247.64 L296.37 247.67 L297.87 247.69 L299.38 247.70 L300.88 247.70 L302.39 247.70 L303.90 247.70 L305.40 247.70 L306.91 247.70 L308.41 247.70 L309.92 247.70 L311.42 247.70 L312.93 247.70 L314.43 247.70 L315.94 247.70 L317.44 247.70 L318.95 247.70 L320.45 247.70 L321.96 247.70 L323.46 247.70 L324.97 247.70 L326.48 247.70 L327.98 247.69 L329.49 247.69 L330.99 247.68 L332.50 247.67 L334.00 247.66 L335.51 247.64 L337.01 247.63 L338.52 247.61 L340.02 247.60 L341.53 247.58 L343.03 247.56 L344.54 247.55 L346.04 247.53 L347.55 247.51 L349.05 247.50 L350.56 247.48 L352.06 247.46 L353.57 247.44 L355.08 247.42 L356.58 247.41 L358.09 247.38 L359.59 247.36 L361.10 247.34 L362.60 247.32 L364.11 247.30 L365.61 247.27 L367.12 247.25 L368.62 247.22 L370.13 247.19 L371.63 247.17 L373.14 247.14 L374.64 247.11 L376.15 247.08 L377.65 247.05 L379.16 247.02 L380.66 246.99 L382.17 246.95 L383.67 246.92 L385.18 246.88 L386.68 246.84 L388.18 246.80 L389.69 246.76 L391.19 246.72 L392.70 246.67 L394.20 246.63 L395.71 246.58 L397.21 246.53 L398.72 246.49 L400.22 246.44 L401.72 246.38 L403.23 246.33 L404.73 246.28 L406.24 246.22 L407.74 246.17 L409.25 246.11 L410.75 246.05 L412.25 245.99 L413.76 245.93 L415.26 245.87 L416.77 245.81 L418.27 245.75 L419.77 245.69 L421.28 245.62 L422.78 245.56 L424.29 245.49 L425.79 245.43 L427.29 245.36 L428.80 245.29 L430.30 245.22 L431.81 245.16 L433.31 245.09 L434.81 245.02 L436.32 244.95 L437.82 244.88 L439.33 244.81 L440.83 244.74 L442.33 244.67 L443.84 244.60 L445.34 244.53 L446.85 244.45 L448.35 244.38 L449.85 244.31 L451.36 244.24 L452.86 244.17 L454.36 244.10 L455.87 244.02 L457.37 243.95 L458.88 243.88 L460.38 243.81 L461.88 243.74 L463.39 243.67 L464.89 243.59 L466.39 243.52 L467.90 243.45 L469.40 243.38 L470.91 243.31 L472.41 243.24 L473.91 243.17 L475.42 243.11 L476.92 243.04 L478.42 242.97 L479.93 242.90 L481.43 242.84 L482.94 242.77 L484.44 242.70 L485.94 242.63 L487.45 242.57 L488.95 242.50 L490.46 242.43 L491.96 242.36 L493.46 242.29 L494.97 242.22 L496.47 242.15 L497.97 242.08 L499.48 242.01 L500.98 241.94 L502.48 241.87 L503.99 241.80 L505.49 241.73 L507.00 241.66 L508.50 241.59 L510.00 241.52 L511.51 241.45 L513.01 241.38 L514.51 241.30 L516.02 241.23 L517.52 241.16 L519.02 241.09 L520.53 241.02 L522.03 240.94 L523.54 240.87 L525.04 240.80 L526.54 240.72 L528.05 240.65 L529.55 240.58 L531.05 240.50 L532.56 240.43 L534.06 240.36 L535.56 240.28 L537.07 240.21 L538.57 240.13 L540.07 240.06 L541.58 239.98 L543.08 239.91 L544.58 239.83 L546.09 239.76 L547.59 239.69 L549.09 239.61 L550.60 239.54 L552.10 239.46 L553.61 239.38 L555.11 239.31 L556.61 239.23 L558.12 239.16 L559.62 239.08 L561.12 239.01 L562.63 238.93 L564.13 238.86 L565.63 238.78 L567.14 238.70 L568.64 238.63 L570.14 238.55 L571.65 238.48 L573.15 238.40 L574.65 238.32 L576.16 238.25 L577.66 238.17 L579.16 238.10 L580.67 238.02 L582.17 237.94 L583.67 237.87 L585.18 237.79 L586.68 237.71 L588.18 237.64 L589.69 237.56 L591.19 237.49 L592.69 237.41 L594.20 237.33 L595.70 237.26 L597.20 237.18 L598.71 237.10 L600.21 237.03 L601.71 236.95 L603.22 236.87 L604.72 236.80 L606.22 236.72 L607.73 236.64 L609.23 236.56 L610.73 236.49 L612.24 236.41 L613.74 236.33 L615.24 236.26 L616.75 236.18 L618.25 236.10 L619.75 236.02 L621.26 235.95 L622.76 235.87 L624.26 235.79 L625.77 235.71 L627.27 235.63 L628.77 235.56 L630.28 235.48 L631.78 235.40 L633.28 235.32 L634.79 235.24 L636.29 235.17 L637.79 235.09 L639.30 235.01 L640.80 234.93 L642.30 234.85 L643.81 234.77 L645.31 234.70 L646.81 234.62 L648.32 234.54 L649.82 234.46 L651.32 234.38 L652.83 234.30 L654.33 234.22 L655.83 234.14 L657.34 234.07 L658.84 233.99 L660.34 233.91 L661.84 233.83 L663.35 233.75 L664.85 233.67 L666.35 233.59 L667.86 233.51 L669.36 233.43 L670.86 233.35 L672.37 233.27 L673.87 233.19 L675.37 233.11 L676.88 233.03 L678.38 232.95 L679.88 232.87 L681.39 232.79 L682.89 232.71 L684.39 232.63 L685.90 232.55 L687.40 232.47 L688.90 232.39 L690.41 232.31 L691.91 232.23 L693.41 232.15 L694.92 232.07 L696.42 231.99 L697.92 231.91 L699.42 231.82 L700.93 231.74 L702.43 231.66 L703.93 231.58 L705.44 231.50 L706.94 231.42 L708.44 231.34 L709.95 231.26 L711.45 231.17 L712.95 231.09 L714.46 231.01 L715.96 230.93 L717.46 230.85 L718.96 230.77 L720.47 230.68 L721.97 230.60 L723.47 230.52 L724.98 230.44 L726.48 230.35 L727.98 230.27 L729.49 230.19 L730.99 230.11 L732.49 230.02 L734.00 229.94 L735.50 229.86 L737.00 229.78 L738.50 229.69 L740.01 229.61 L741.51 229.53 L743.01 229.44 L744.52 229.36 L746.02 229.28 L747.52 229.19 L749.03 229.11 L750.53 229.03 L752.03 228.94 L753.53 228.86 L755.04 228.78 L756.54 228.69 L758.04 228.61 L759.55 228.53 L761.05 228.44 L762.55 228.36 L764.06 228.27 L765.56 228.19 L767.06 228.10 L768.56 228.02 L770.07 227.94 L771.57 227.85 L773.07 227.77 L774.58 227.68 L776.08 227.60 L777.58 227.51 L779.09 227.43 L780.59 227.34 L782.09 227.26 L783.59 227.17 L785.10 227.09 L786.60 227.00" stroke="#0000ff" stroke-width="1.30" stroke-dasharray="2.000 4.2455" stroke-dashoffset="1.000"/>
<path d="M97.20 107.70 L97.48 109.19 L97.75 110.68 L98.02 112.16 L98.30 113.65 L98.57 115.14 L98.84 116.63 L99.10 118.12 L99.37 119.61 L99.63 121.10 L99.89 122.59 L100.15 124.08 L100.41 125.57 L100.67 127.06 L100.93 128.55 L101.18 130.04 L101.43 131.54 L101.69 133.03 L101.94 134.52 L102.19 136.01 L102.43 137.50 L102.68 139.00 L102.92 140.49 L103.16 141.98 L103.40 143.48 L103.64 144.97 L103.87 146.47 L104.11 147.96 L104.34 149.46 L104.57 150.95 L104.80 152.45 L105.04 153.94 L105.27 155.44 L105.50 156.93 L105.73 158.43 L105.95 159.92 L106.18 161.42 L106.41 162.92 L106.63 164.41 L106.85 165.91 L107.08 167.40 L107.30 168.90 L107.53 170.40 L107.75 171.89 L107.98 173.39 L108.21 174.88 L108.43 176.38 L108.66 177.88 L108.89 179.37 L109.12 180.87 L109.35 182.36 L109.58 183.86 L109.81 185.35 L110.05 186.85 L110.28 188.34 L110.51 189.84 L110.75 191.33 L110.98 192.83 L111.22 194.32 L111.46 195.81 L111.71 197.31 L111.95 198.80 L112.20 200.29 L112.44 201.79 L112.69 203.28 L112.94 204.77 L113.19 206.26 L113.44 207.76 L113.69 209.25 L113.94 210.74 L114.19 212.23 L114.44 213.72 L114.68 215.22 L114.93 216.71 L115.18 218.20 L115.42 219.70 L115.67 221.19 L115.91 222.68 L116.16 224.18 L116.40 225.67 L116.65 227.16 L116.90 228.65 L117.15 230.15 L117.40 231.64 L117.65 233.13 L117.91 234.62 L118.17 236.11 L118.43 237.60 L118.69 239.09 L118.95 240.58 L119.21 242.07 L119.48 243.56 L119.74 245.05 L120.01 246.54 L120.28 248.03 L120.55 249.52 L120.82 251.01 L121.09 252.49 L121.36 253.98 L121.64 255.47 L121.91 256.96 L122.18 258.45 L122.46 259.94 L122.73 261.42 L123.01 262.91 L123.29 264.40 L123.58 265.88 L123.86 267.37 L124.15 268.85 L124.45 270.34 L124.74 271.82 L125.05 273.30 L125.35 274.79 L125.66 276.27 L125.97 277.75 L126.28 279.23 L126.60 280.71 L126.92 282.19 L127.24 283.66 L127.57 285.14 L127.90 286.62 L128.23 288.10 L128.57 289.57 L128.90 291.05 L129.24 292.52 L129.59 293.99 L129.94 295.46 L130.30 296.93 L130.65 298.40 L131.01 299.87 L131.38 301.34 L131.74 302.81 L132.10 304.28 L132.47 305.75 L132.83 307.22 L133.20 308.69 L133.56 310.15 L133.92 311.62 L134.29 313.09 L134.65 314.56 L135.02 316.03 L135.38 317.50 L135.75 318.96 L136.12 320.43 L136.49 321.90 L136.86 323.37 L137.23 324.83 L137.61 326.30 L137.98 327.76 L138.36 329.23 L138.75 330.69 L139.14 332.15 L139.53 333.61 L139.92 335.08 L140.32 336.54 L140.71 338.00 L141.11 339.46 L141.51 340.92 L141.90 342.38 L142.30 343.84 L142.69 345.30 L143.08 346.76 L143.47 348.22 L143.86 349.68 L144.25 351.15 L144.63 352.61 L145.02 354.07 L145.40 355.54 L145.79 357.00 L146.17 358.46 L146.56 359.93 L146.94 361.39 L147.32 362.85 L147.71 364.32 L148.09 365.78 L148.48 367.24 L148.86 368.71 L149.25 370.17 L149.64 371.63 L150.02 373.09 L150.41 374.56 L150.79 376.02 L151.18 377.48 L151.56 378.95 L151.95 380.41 L152.33 381.87 L152.72 383.34 L153.10 384.80" stroke="#0000ff" stroke-width="1.15" stroke-dasharray="10.8 8.6"/>
<path d="M153.10 384.80 L153.73 386.18 L154.40 387.54 L155.10 388.88 L155.83 390.19 L156.60 391.47 L157.41 392.73 L158.26 393.96 L159.16 395.18 L160.09 396.38 L161.05 397.55 L162.04 398.69 L163.05 399.81 L164.07 400.90 L165.13 401.97 L166.22 403.02 L167.34 404.04 L168.49 405.03 L169.66 405.96 L170.86 406.85 L172.09 407.70 L173.35 408.51 L174.64 409.30 L175.94 410.07 L177.26 410.83 L178.57 411.58 L179.87 412.34 L181.16 413.13 L182.45 413.93 L183.75 414.71 L185.07 415.44 L186.41 416.08 L187.79 416.62 L189.20 417.10 L190.64 417.54 L192.09 417.95 L193.56 418.34 L195.03 418.73 L196.49 419.13 L197.94 419.54 L199.38 419.98 L200.82 420.44 L202.26 420.89 L203.71 421.30 L205.16 421.67 L206.63 421.99 L208.10 422.30 L209.58 422.59 L211.07 422.86 L212.56 423.11 L214.05 423.33 L215.54 423.52 L217.03 423.69 L218.53 423.83 L220.03 423.95 L221.53 424.06 L223.04 424.17 L224.54 424.27 L226.04 424.38 L227.54 424.49 L229.04 424.59 L230.55 424.69 L232.05 424.79 L233.55 424.88 L235.06 424.96 L236.56 425.03 L238.06 425.10 L239.57 425.16 L241.07 425.22 L242.58 425.27 L244.08 425.30 L245.59 425.32 L247.09 425.34 L248.60 425.36 L250.10 425.37 L251.61 425.39 L253.12 425.39 L254.62 425.40 L256.13 425.40 L257.63 425.40 L259.14 425.39 L260.64 425.38 L262.15 425.37 L263.65 425.36 L265.16 425.34 L266.67 425.32 L268.17 425.30 L269.68 425.27 L271.18 425.25 L272.69 425.22 L274.19 425.19 L275.70 425.16 L277.20 425.13 L278.71 425.10 L280.22 425.06 L281.72 425.02 L283.23 424.99 L284.73 424.95 L286.24 424.91 L287.74 424.87 L289.25 424.83 L290.75 424.79 L292.26 424.75 L293.76 424.71 L295.27 424.67 L296.77 424.63 L298.28 424.59 L299.78 424.55 L301.29 424.51 L302.79 424.46 L304.29 424.41 L305.80 424.36 L307.30 424.30 L308.81 424.24 L310.31 424.18 L311.82 424.12 L313.32 424.06 L314.82 423.99 L316.33 423.92 L317.83 423.85 L319.34 423.78 L320.84 423.71 L322.34 423.64 L323.85 423.56 L325.35 423.49 L326.86 423.41 L328.36 423.33 L329.86 423.26 L331.37 423.18 L332.87 423.10 L334.37 423.02 L335.88 422.94 L337.38 422.86 L338.89 422.78 L340.39 422.70 L341.89 422.62 L343.40 422.54 L344.90 422.46 L346.40 422.38 L347.91 422.31 L349.41 422.23 L350.91 422.15 L352.42 422.08 L353.92 422.00 L355.43 421.93 L356.93 421.85 L358.43 421.77 L359.94 421.70 L361.44 421.62 L362.94 421.54 L364.45 421.47 L365.95 421.39 L367.45 421.31 L368.96 421.23 L370.46 421.15 L371.97 421.07 L373.47 420.99 L374.97 420.92 L376.48 420.84 L377.98 420.76 L379.48 420.67 L380.99 420.59 L382.49 420.51 L383.99 420.43 L385.50 420.35 L387.00 420.26 L388.50 420.18 L390.01 420.10 L391.51 420.01 L393.01 419.93 L394.52 419.84 L396.02 419.76 L397.52 419.67 L399.03 419.58 L400.53 419.50 L402.03 419.41 L403.54 419.32 L405.04 419.23 L406.54 419.14 L408.04 419.05 L409.55 418.96 L411.05 418.86 L412.55 418.77 L414.05 418.68 L415.56 418.58 L417.06 418.49 L418.56 418.39 L420.06 418.30 L421.57 418.20 L423.07 418.10 L424.57 417.99 L426.07 417.88 L427.57 417.78 L429.08 417.67 L430.58 417.55 L432.08 417.44 L433.58 417.33 L435.08 417.21 L436.58 417.10 L438.08 416.98 L439.58 416.87 L441.09 416.75 L442.59 416.64 L444.09 416.53 L445.59 416.41 L447.09 416.31 L448.59 416.20 L450.10 416.09 L451.60 415.99 L453.10 415.89 L454.60 415.79 L456.10 415.68 L457.61 415.58 L459.11 415.48 L460.61 415.39 L462.11 415.29 L463.61 415.19 L465.12 415.09 L466.62 415.00 L468.12 414.90 L469.62 414.80 L471.13 414.71 L472.63 414.61 L474.13 414.52 L475.64 414.42 L477.14 414.33 L478.64 414.24 L480.14 414.14 L481.65 414.05 L483.15 413.95 L484.65 413.86 L486.15 413.77 L487.66 413.67 L489.16 413.58 L490.66 413.49 L492.16 413.39 L493.67 413.30 L495.17 413.21 L496.67 413.11 L498.18 413.02 L499.68 412.92 L501.18 412.83 L502.68 412.73 L504.19 412.64 L505.69 412.54 L507.19 412.45 L508.69 412.35 L510.20 412.25 L511.70 412.15 L513.20 412.05 L514.70 411.96 L516.21 411.86 L517.71 411.75 L519.21 411.65 L520.71 411.55 L522.21 411.45 L523.72 411.35 L525.22 411.24 L526.72 411.14 L528.22 411.03 L529.72 410.92 L531.22 410.82 L532.73 410.71 L534.23 410.60 L535.73 410.50 L537.23 410.39 L538.73 410.28 L540.24 410.17 L541.74 410.06 L543.24 409.95 L544.74 409.84 L546.24 409.73 L547.74 409.62 L549.24 409.51 L550.75 409.39 L552.25 409.28 L553.75 409.17 L555.25 409.06 L556.75 408.95 L558.25 408.84 L559.75 408.73 L561.26 408.61 L562.76 408.50 L564.26 408.39 L565.76 408.28 L567.26 408.17 L568.76 408.06 L570.27 407.95 L571.77 407.84 L573.27 407.73 L574.77 407.62 L576.27 407.51 L577.77 407.41 L579.28 407.30 L580.78 407.19 L582.28 407.08 L583.78 406.98 L585.28 406.87 L586.78 406.77 L588.29 406.66 L589.79 406.56 L591.29 406.46 L592.79 406.35 L594.29 406.25 L595.80 406.15 L597.30 406.05 L598.80 405.96 L600.30 405.86 L601.81 405.76 L603.31 405.66 L604.81 405.57 L606.31 405.47 L607.82 405.38 L609.32 405.28 L610.82 405.19 L612.32 405.09 L613.83 405.00 L615.33 404.90 L616.83 404.80 L618.33 404.71 L619.84 404.61 L621.34 404.51 L622.84 404.42 L624.34 404.32 L625.85 404.22 L627.35 404.12 L628.85 404.03 L630.35 403.93 L631.86 403.83 L633.36 403.73 L634.86 403.64 L636.36 403.54 L637.87 403.44 L639.37 403.34 L640.87 403.25 L642.37 403.15 L643.88 403.05 L645.38 402.95 L646.88 402.86 L648.38 402.76 L649.89 402.66 L651.39 402.56 L652.89 402.47 L654.39 402.37 L655.90 402.27 L657.40 402.17 L658.90 402.08 L660.40 401.98 L661.90 401.88 L663.41 401.78 L664.91 401.69 L666.41 401.59 L667.91 401.49 L669.42 401.39 L670.92 401.29 L672.42 401.20 L673.92 401.10 L675.43 401.00 L676.93 400.90 L678.43 400.80 L679.93 400.71 L681.44 400.61 L682.94 400.51 L684.44 400.41 L685.94 400.32 L687.45 400.22 L688.95 400.12 L690.45 400.02 L691.95 399.92 L693.46 399.83 L694.96 399.73 L696.46 399.63 L697.96 399.53 L699.46 399.43 L700.97 399.33 L702.47 399.24 L703.97 399.14 L705.47 399.04 L706.98 398.94 L708.48 398.84 L709.98 398.75 L711.48 398.65 L712.99 398.55 L714.49 398.45 L715.99 398.35 L717.49 398.25 L719.00 398.15 L720.50 398.06 L722.00 397.96 L723.50 397.86 L725.00 397.76 L726.51 397.66 L728.01 397.56 L729.51 397.47 L731.01 397.37 L732.52 397.27 L734.02 397.17 L735.52 397.07 L737.02 396.97 L738.53 396.87 L740.03 396.77 L741.53 396.68 L743.03 396.58 L744.54 396.48 L746.04 396.38 L747.54 396.28 L749.04 396.18 L750.54 396.08 L752.05 395.98 L753.55 395.88 L755.05 395.79 L756.55 395.69 L758.06 395.59 L759.56 395.49 L761.06 395.39 L762.56 395.29 L764.07 395.19 L765.57 395.09 L767.07 394.99 L768.57 394.89 L770.07 394.79 L771.58 394.69 L773.08 394.60 L774.58 394.50 L776.08 394.40 L777.59 394.30 L779.09 394.20 L780.59 394.10 L782.09 394.00 L783.60 393.90 L785.10 393.80 L786.60 393.70" stroke="#0000ff" stroke-width="1.15" stroke-dasharray="10.886 8.539" stroke-dashoffset="10.391"/>
<path d="M125.20 207.20 L125.61 208.70 L126.03 210.19 L126.46 211.69 L126.90 213.17 L127.35 214.65 L127.82 216.13 L128.29 217.60 L128.78 219.07 L129.27 220.54 L129.78 222.00 L130.29 223.45 L130.81 224.91 L131.34 226.36 L131.88 227.81 L132.42 229.25 L132.97 230.69 L133.53 232.13 L134.09 233.56 L134.66 234.99 L135.24 236.42 L135.82 237.85 L136.40 239.27 L136.99 240.69 L137.61 242.10 L138.24 243.51 L138.90 244.91 L139.58 246.30 L140.26 247.69 L140.94 249.07 L141.63 250.46 L142.32 251.84 L143.01 253.22 L143.72 254.59 L144.43 255.96 L145.16 257.33 L145.89 258.68 L146.64 260.03 L147.40 261.37 L148.17 262.71 L148.96 264.04 L149.75 265.36 L150.56 266.68 L151.37 267.99 L152.20 269.30 L152.99 270.59 L153.80 271.87 L154.64 273.14 L155.49 274.38 L156.37 275.61 L157.26 276.81 L158.18 278.00 L159.11 279.16 L160.07 280.31 L161.06 281.44 L162.07 282.57 L163.11 283.67 L164.16 284.76 L165.23 285.83 L166.31 286.88 L167.41 287.91 L168.52 288.92 L169.64 289.92 L170.78 290.89 L171.95 291.84 L173.14 292.78 L174.34 293.70 L175.55 294.60 L176.77 295.49 L178.00 296.36 L179.23 297.21 L180.48 298.04 L181.75 298.86 L183.03 299.66 L184.31 300.45 L185.61 301.23 L186.91 301.99 L188.21 302.73 L189.52 303.48 L190.84 304.21 L192.17 304.93 L193.50 305.63 L194.84 306.32 L196.19 306.98 L197.55 307.62 L198.92 308.25 L200.29 308.86 L201.68 309.46 L203.07 310.05 L204.46 310.62 L205.86 311.17 L207.27 311.71 L208.68 312.23 L210.10 312.73 L211.52 313.23 L212.94 313.72 L214.37 314.20 L215.81 314.68 L217.25 315.15 L218.69 315.60 L220.13 316.05 L221.58 316.47 L223.04 316.87 L224.49 317.25 L225.95 317.61 L227.41 317.94 L228.88 318.24 L230.35 318.52 L231.82 318.80 L233.30 319.08 L234.78 319.34 L236.27 319.59 L237.76 319.83 L239.25 320.07 L240.74 320.29 L242.24 320.51 L243.73 320.71 L245.23 320.91 L246.73 321.10 L248.23 321.27 L249.72 321.44 L251.22 321.59 L252.72 321.74 L254.21 321.88 L255.71 322.01 L257.21 322.14 L258.71 322.27 L260.21 322.39 L261.71 322.50 L263.22 322.61 L264.72 322.72 L266.22 322.82 L267.73 322.92 L269.23 323.01 L270.74 323.10 L272.24 323.18 L273.74 323.26 L275.25 323.34 L276.75 323.42 L278.25 323.49 L279.76 323.56 L281.26 323.63 L282.77 323.70 L284.27 323.77 L285.78 323.83 L287.28 323.89 L288.78 323.95 L290.29 324.01 L291.79 324.06 L293.30 324.11 L294.81 324.16 L296.31 324.20 L297.82 324.24 L299.32 324.28 L300.83 324.31 L302.33 324.33 L303.84 324.36 L305.34 324.39 L306.85 324.42 L308.35 324.44 L309.86 324.47 L311.36 324.49 L312.87 324.51 L314.38 324.53 L315.88 324.55 L317.39 324.56 L318.89 324.58 L320.40 324.59 L321.90 324.59 L323.41 324.60 L324.92 324.60 L326.42 324.60 L327.93 324.59 L329.43 324.58 L330.94 324.57 L332.44 324.55 L333.95 324.54 L335.45 324.52 L336.96 324.50 L338.47 324.47 L339.97 324.45 L341.48 324.42 L342.98 324.40 L344.49 324.37 L345.99 324.35 L347.50 324.32 L349.00 324.29 L350.51 324.27 L352.02 324.24 L353.52 324.21 L355.03 324.18 L356.53 324.15 L358.04 324.11 L359.54 324.08 L361.05 324.04 L362.55 324.00 L364.06 323.96 L365.56 323.92 L367.07 323.88 L368.57 323.84 L370.08 323.80 L371.58 323.75 L373.09 323.71 L374.59 323.66 L376.10 323.62 L377.60 323.57 L379.11 323.53 L380.61 323.48 L382.12 323.43 L383.62 323.39 L385.13 323.34 L386.63 323.29 L388.14 323.24 L389.64 323.19 L391.15 323.14 L392.65 323.09 L394.16 323.04 L395.66 322.98 L397.17 322.93 L398.67 322.87 L400.18 322.82 L401.68 322.76 L403.19 322.71 L404.69 322.65 L406.19 322.59 L407.70 322.53 L409.20 322.48 L410.71 322.42 L412.21 322.36 L413.72 322.30 L415.22 322.24 L416.73 322.18 L418.23 322.11 L419.74 322.05 L421.24 321.99 L422.74 321.93 L424.25 321.86 L425.75 321.80 L427.26 321.73 L428.76 321.67 L430.27 321.60 L431.77 321.54 L433.27 321.47 L434.78 321.41 L436.28 321.34 L437.79 321.27 L439.29 321.20 L440.80 321.14 L442.30 321.07 L443.80 321.00 L445.31 320.93 L446.81 320.86 L448.32 320.79 L449.82 320.72 L451.33 320.65 L452.83 320.58 L454.33 320.51 L455.84 320.44 L457.34 320.37 L458.85 320.30 L460.35 320.23 L461.85 320.16 L463.36 320.09 L464.86 320.02 L466.37 319.95 L467.87 319.88 L469.37 319.81 L470.88 319.73 L472.38 319.66 L473.89 319.59 L475.39 319.52 L476.89 319.45 L478.40 319.38 L479.90 319.30 L481.41 319.23 L482.91 319.16 L484.41 319.09 L485.92 319.01 L487.42 318.94 L488.93 318.86 L490.43 318.79 L491.93 318.71 L493.44 318.64 L494.94 318.56 L496.44 318.48 L497.95 318.40 L499.45 318.32 L500.95 318.24 L502.46 318.16 L503.96 318.08 L505.47 318.00 L506.97 317.92 L508.47 317.84 L509.98 317.76 L511.48 317.68 L512.98 317.60 L514.49 317.51 L515.99 317.43 L517.49 317.35 L519.00 317.26 L520.50 317.18 L522.00 317.09 L523.51 317.01 L525.01 316.92 L526.51 316.84 L528.02 316.75 L529.52 316.67 L531.02 316.58 L532.53 316.50 L534.03 316.41 L535.53 316.32 L537.04 316.24 L538.54 316.15 L540.04 316.07 L541.55 315.98 L543.05 315.89 L544.55 315.81 L546.06 315.72 L547.56 315.63 L549.06 315.55 L550.57 315.46 L552.07 315.37 L553.57 315.28 L555.07 315.20 L556.58 315.11 L558.08 315.02 L559.58 314.94 L561.09 314.85 L562.59 314.77 L564.09 314.68 L565.60 314.59 L567.10 314.51 L568.60 314.42 L570.11 314.34 L571.61 314.25 L573.11 314.16 L574.62 314.08 L576.12 314.00 L577.62 313.91 L579.13 313.83 L580.63 313.74 L582.13 313.66 L583.64 313.58 L585.14 313.49 L586.64 313.41 L588.15 313.33 L589.65 313.24 L591.15 313.16 L592.66 313.08 L594.16 312.99 L595.67 312.91 L597.17 312.83 L598.67 312.75 L600.18 312.66 L601.68 312.58 L603.18 312.50 L604.69 312.41 L606.19 312.33 L607.69 312.25 L609.20 312.17 L610.70 312.08 L612.20 312.00 L613.71 311.92 L615.21 311.83 L616.71 311.75 L618.22 311.67 L619.72 311.59 L621.22 311.50 L622.73 311.42 L624.23 311.34 L625.73 311.25 L627.24 311.17 L628.74 311.09 L630.24 311.01 L631.75 310.92 L633.25 310.84 L634.75 310.76 L636.26 310.67 L637.76 310.59 L639.26 310.51 L640.77 310.43 L642.27 310.34 L643.77 310.26 L645.28 310.18 L646.78 310.09 L648.28 310.01 L649.79 309.93 L651.29 309.85 L652.79 309.76 L654.30 309.68 L655.80 309.60 L657.31 309.51 L658.81 309.43 L660.31 309.35 L661.82 309.27 L663.32 309.18 L664.82 309.10 L666.33 309.02 L667.83 308.93 L669.33 308.85 L670.84 308.77 L672.34 308.69 L673.84 308.60 L675.35 308.52 L676.85 308.44 L678.35 308.35 L679.86 308.27 L681.36 308.19 L682.86 308.11 L684.37 308.02 L685.87 307.94 L687.37 307.86 L688.88 307.78 L690.38 307.69 L691.88 307.61 L693.39 307.53 L694.89 307.44 L696.39 307.36 L697.90 307.28 L699.40 307.20 L700.90 307.11 L702.41 307.03 L703.91 306.95 L705.41 306.86 L706.92 306.78 L708.42 306.70 L709.93 306.62 L711.43 306.53 L712.93 306.45 L714.44 306.37 L715.94 306.29 L717.44 306.20 L718.95 306.12 L720.45 306.04 L721.95 305.95 L723.46 305.87 L724.96 305.79 L726.46 305.71 L727.97 305.62 L729.47 305.54 L730.97 305.46 L732.48 305.38 L733.98 305.29 L735.48 305.21 L736.99 305.13 L738.49 305.04 L739.99 304.96 L741.50 304.88 L743.00 304.80 L744.50 304.71 L746.01 304.63 L747.51 304.55 L749.01 304.47 L750.52 304.38 L752.02 304.30 L753.52 304.22 L755.03 304.14 L756.53 304.05 L758.03 303.97 L759.54 303.89 L761.04 303.80 L762.55 303.72 L764.05 303.64 L765.55 303.56 L767.06 303.47 L768.56 303.39 L770.06 303.31 L771.57 303.23 L773.07 303.14 L774.57 303.06 L776.08 302.98 L777.58 302.90 L779.08 302.81 L780.59 302.73 L782.09 302.65 L783.59 302.57 L785.10 302.48 L786.60 302.40" stroke="#00ff00" stroke-width="1.15" stroke-linejoin="round"/>
<path d="M125.50 118.90 L126.02 120.39 L126.54 121.87 L127.08 123.35 L127.62 124.83 L128.17 126.30 L128.73 127.78 L129.29 129.25 L129.89 130.71 L130.53 132.14 L131.22 133.55 L131.94 134.96 L132.64 136.37 L133.31 137.79 L133.97 139.22 L134.63 140.65 L135.29 142.08 L135.98 143.50 L136.66 144.91 L137.36 146.32 L138.07 147.73 L138.78 149.14 L139.50 150.53 L140.23 151.93 L140.96 153.33 L141.69 154.72 L142.42 156.12 L143.15 157.51 L143.90 158.90 L144.67 160.27 L145.46 161.63 L146.24 163.00 L146.99 164.38 L147.70 165.78 L148.39 167.20 L149.06 168.63 L149.72 170.05 L150.38 171.48 L151.03 172.92 L151.67 174.36 L152.30 175.80" stroke="#00ff00" stroke-width="1.30" pathLength="10" stroke-dasharray="0.3175 0.6825" stroke-dashoffset="0.1587"/>
<path d="M152.30 175.80 L153.12 177.06 L153.96 178.31 L154.81 179.56 L155.68 180.79 L156.56 182.01 L157.45 183.22 L158.36 184.42 L159.28 185.61 L160.21 186.80 L161.14 187.98 L162.09 189.15 L163.06 190.30 L164.06 191.42 L165.09 192.52 L166.15 193.60 L167.23 194.65 L168.32 195.68 L169.44 196.69 L170.58 197.67 L171.73 198.65 L172.88 199.62 L174.02 200.60 L175.18 201.57 L176.34 202.53 L177.51 203.47 L178.70 204.40 L179.89 205.32 L181.11 206.21 L182.34 207.06 L183.62 207.86 L184.92 208.62 L186.23 209.36 L187.54 210.11 L188.83 210.89 L190.11 211.68 L191.40 212.47 L192.69 213.23 L194.01 213.95 L195.35 214.64 L196.70 215.31 L198.05 215.98 L199.40 216.64 L200.75 217.31 L202.11 217.96 L203.47 218.61 L204.83 219.24 L206.20 219.87 L207.57 220.50 L208.95 221.10 L210.34 221.68 L211.74 222.24 L213.14 222.79 L214.55 223.32 L215.97 223.82 L217.39 224.32 L218.81 224.82 L220.24 225.32 L221.67 225.80 L223.11 226.27 L224.55 226.71 L225.99 227.13 L227.44 227.52 L228.90 227.86 L230.36 228.20 L231.82 228.52 L233.29 228.83 L234.77 229.13 L236.25 229.42 L237.73 229.71 L239.21 229.98 L240.70 230.24 L242.19 230.50 L243.68 230.74 L245.17 230.98 L246.66 231.21 L248.15 231.43 L249.65 231.64 L251.14 231.85 L252.63 232.04 L254.12 232.24 L255.61 232.43 L257.10 232.61 L258.60 232.79 L260.09 232.97 L261.59 233.14 L263.09 233.31 L264.59 233.47 L266.09 233.62 L267.59 233.77 L269.09 233.91 L270.59 234.05 L272.09 234.18 L273.59 234.30 L275.09 234.41 L276.59 234.51 L278.09 234.61 L279.59 234.71 L281.10 234.81 L282.60 234.90 L284.10 234.99 L285.61 235.07 L287.11 235.16 L288.61 235.24 L290.12 235.31 L291.62 235.38 L293.13 235.45 L294.63 235.51 L296.14 235.57 L297.64 235.62 L299.15 235.66 L300.65 235.70 L302.16 235.74 L303.66 235.78 L305.17 235.81 L306.67 235.85 L308.18 235.88 L309.68 235.92 L311.19 235.95 L312.69 235.98 L314.20 236.00 L315.70 236.03 L317.21 236.05 L318.72 236.07 L320.22 236.08 L321.73 236.09 L323.23 236.10 L324.74 236.10 L326.24 236.10 L327.75 236.10 L329.26 236.10 L330.76 236.10 L332.27 236.10 L333.77 236.10 L335.28 236.10 L336.78 236.10 L338.29 236.10 L339.79 236.10 L341.30 236.10 L342.81 236.10 L344.31 236.10 L345.82 236.10 L347.32 236.10 L348.83 236.10 L350.33 236.10 L351.84 236.09 L353.35 236.09 L354.85 236.08 L356.36 236.06 L357.86 236.05 L359.37 236.03 L360.87 236.01 L362.38 235.99 L363.88 235.97 L365.39 235.95 L366.90 235.93 L368.40 235.90 L369.91 235.88 L371.41 235.85 L372.92 235.82 L374.42 235.80 L375.93 235.77 L377.43 235.74 L378.94 235.72 L380.44 235.69 L381.95 235.67 L383.45 235.64 L384.96 235.61 L386.47 235.58 L387.97 235.55 L389.48 235.52 L390.98 235.48 L392.49 235.45 L393.99 235.41 L395.50 235.38 L397.00 235.34 L398.51 235.30 L400.01 235.26 L401.52 235.22 L403.02 235.18 L404.53 235.14 L406.03 235.10 L407.54 235.06 L409.04 235.01 L410.55 234.97 L412.05 234.92 L413.56 234.88 L415.06 234.83 L416.57 234.78 L418.07 234.74 L419.58 234.69 L421.08 234.64 L422.59 234.59 L424.09 234.54 L425.60 234.49 L427.10 234.44 L428.61 234.38 L430.11 234.33 L431.62 234.28 L433.12 234.23 L434.62 234.17 L436.13 234.12 L437.63 234.07 L439.14 234.01 L440.64 233.96 L442.15 233.90 L443.65 233.85 L445.16 233.79 L446.66 233.74 L448.17 233.68 L449.67 233.62 L451.18 233.57 L452.68 233.51 L454.19 233.46 L455.69 233.40 L457.20 233.34 L458.70 233.29 L460.21 233.23 L461.71 233.17 L463.21 233.12 L464.72 233.06 L466.22 233.01 L467.73 232.95 L469.23 232.89 L470.74 232.84 L472.24 232.78 L473.75 232.73 L475.25 232.67 L476.76 232.62 L478.26 232.56 L479.77 232.51 L481.27 232.45 L482.78 232.40 L484.28 232.35 L485.78 232.29 L487.29 232.23 L488.79 232.18 L490.30 232.12 L491.80 232.07 L493.31 232.01 L494.81 231.95 L496.32 231.90 L497.82 231.84 L499.33 231.78 L500.83 231.72 L502.33 231.67 L503.84 231.61 L505.34 231.55 L506.85 231.49 L508.35 231.43 L509.86 231.37 L511.36 231.31 L512.87 231.25 L514.37 231.19 L515.87 231.13 L517.38 231.07 L518.88 231.01 L520.39 230.95 L521.89 230.89 L523.40 230.83 L524.90 230.77 L526.41 230.70 L527.91 230.64 L529.41 230.58 L530.92 230.52 L532.42 230.46 L533.93 230.39 L535.43 230.33 L536.94 230.27 L538.44 230.20 L539.94 230.14 L541.45 230.08 L542.95 230.01 L544.46 229.95 L545.96 229.89 L547.47 229.82 L548.97 229.76 L550.48 229.70 L551.98 229.63 L553.48 229.57 L554.99 229.50 L556.49 229.44 L558.00 229.37 L559.50 229.31 L561.00 229.24 L562.51 229.18 L564.01 229.11 L565.52 229.05 L567.02 228.98 L568.53 228.92 L570.03 228.85 L571.53 228.79 L573.04 228.72 L574.54 228.66 L576.05 228.59 L577.55 228.53 L579.06 228.46 L580.56 228.39 L582.06 228.33 L583.57 228.26 L585.07 228.20 L586.58 228.13 L588.08 228.07 L589.59 228.00 L591.09 227.93 L592.59 227.87 L594.10 227.80 L595.60 227.73 L597.11 227.67 L598.61 227.60 L600.11 227.54 L601.62 227.47 L603.12 227.40 L604.63 227.34 L606.13 227.27 L607.63 227.20 L609.14 227.14 L610.64 227.07 L612.15 227.00 L613.65 226.93 L615.16 226.87 L616.66 226.80 L618.16 226.73 L619.67 226.66 L621.17 226.60 L622.68 226.53 L624.18 226.46 L625.68 226.39 L627.19 226.33 L628.69 226.26 L630.20 226.19 L631.70 226.12 L633.20 226.05 L634.71 225.98 L636.21 225.92 L637.72 225.85 L639.22 225.78 L640.73 225.71 L642.23 225.64 L643.73 225.57 L645.24 225.50 L646.74 225.43 L648.25 225.37 L649.75 225.30 L651.25 225.23 L652.76 225.16 L654.26 225.09 L655.77 225.02 L657.27 224.95 L658.77 224.88 L660.28 224.81 L661.78 224.74 L663.29 224.67 L664.79 224.60 L666.29 224.53 L667.80 224.46 L669.30 224.39 L670.81 224.32 L672.31 224.25 L673.81 224.18 L675.32 224.11 L676.82 224.03 L678.33 223.96 L679.83 223.89 L681.33 223.82 L682.84 223.75 L684.34 223.68 L685.85 223.61 L687.35 223.54 L688.85 223.46 L690.36 223.39 L691.86 223.32 L693.36 223.25 L694.87 223.18 L696.37 223.10 L697.88 223.03 L699.38 222.96 L700.88 222.89 L702.39 222.82 L703.89 222.74 L705.40 222.67 L706.90 222.60 L708.40 222.53 L709.91 222.45 L711.41 222.38 L712.92 222.31 L714.42 222.23 L715.92 222.16 L717.43 222.09 L718.93 222.01 L720.43 221.94 L721.94 221.87 L723.44 221.79 L724.95 221.72 L726.45 221.64 L727.95 221.57 L729.46 221.50 L730.96 221.42 L732.47 221.35 L733.97 221.27 L735.47 221.20 L736.98 221.12 L738.48 221.05 L739.98 220.97 L741.49 220.90 L742.99 220.82 L744.50 220.75 L746.00 220.67 L747.50 220.60 L749.01 220.52 L750.51 220.45 L752.01 220.37 L753.52 220.29 L755.02 220.22 L756.53 220.14 L758.03 220.07 L759.53 219.99 L761.04 219.91 L762.54 219.84 L764.04 219.76 L765.55 219.68 L767.05 219.61 L768.56 219.53 L770.06 219.45 L771.56 219.38 L773.07 219.30 L774.57 219.22 L776.07 219.14 L777.58 219.07 L779.08 218.99 L780.59 218.91 L782.09 218.83 L783.59 218.76 L785.10 218.68 L786.60 218.60" stroke="#00ff00" stroke-width="1.30" stroke-dasharray="2.000 4.2431" stroke-dashoffset="1.000"/>
<path d="M125.20 260.50 L125.63 261.99 L126.05 263.47 L126.46 264.96 L126.87 266.45 L127.28 267.95 L127.67 269.44 L128.06 270.93 L128.44 272.43 L128.80 273.94 L129.15 275.44 L129.50 276.95 L129.85 278.45 L130.19 279.96 L130.53 281.47 L130.88 282.98 L131.23 284.48 L131.59 285.99 L131.96 287.49 L132.34 288.98 L132.73 290.48 L133.14 291.97 L133.55 293.45 L133.98 294.94 L134.40 296.43 L134.84 297.91 L135.29 299.39 L135.73 300.87 L136.19 302.35 L136.65 303.83 L137.11 305.30 L137.58 306.77 L138.05 308.25 L138.53 309.71 L139.02 311.18 L139.51 312.64 L140.02 314.11 L140.53 315.56 L141.04 317.02 L141.56 318.48 L142.08 319.93 L142.61 321.39 L143.13 322.84 L143.65 324.30 L144.17 325.76 L144.68 327.21 L145.19 328.67 L145.69 330.14 L146.20 331.60 L146.70 333.06 L147.20 334.52 L147.70 335.99 L148.21 337.45 L148.72 338.91 L149.24 340.36 L149.77 341.81 L150.30 343.26 L150.85 344.71 L151.41 346.14 L152.00 347.57 L152.60 349.00" stroke="#00ff00" stroke-width="1.15" stroke-dasharray="10.8 8.6"/>
<path d="M152.60 349.00 L153.16 350.42 L153.79 351.79 L154.49 353.11 L155.27 354.36 L156.13 355.58 L157.07 356.76 L158.06 357.92 L159.08 359.05 L160.12 360.16 L161.16 361.25 L162.20 362.33 L163.28 363.39 L164.38 364.43 L165.50 365.44 L166.64 366.42 L167.80 367.36 L168.99 368.28 L170.20 369.18 L171.42 370.06 L172.67 370.92 L173.93 371.75 L175.20 372.57 L176.47 373.36 L177.76 374.14 L179.06 374.90 L180.37 375.63 L181.70 376.35 L183.04 377.03 L184.39 377.69 L185.76 378.32 L187.13 378.92 L188.52 379.51 L189.92 380.09 L191.32 380.64 L192.73 381.18 L194.13 381.71 L195.55 382.23 L196.97 382.73 L198.39 383.22 L199.82 383.69 L201.26 384.14 L202.70 384.57 L204.15 384.98 L205.60 385.39 L207.05 385.78 L208.51 386.15 L209.98 386.49 L211.44 386.83 L212.91 387.15 L214.39 387.46 L215.86 387.76 L217.34 388.05 L218.82 388.32 L220.30 388.58 L221.79 388.83 L223.27 389.08 L224.76 389.32 L226.24 389.57 L227.73 389.81 L229.22 390.04 L230.72 390.27" stroke="#00ff00" stroke-width="1.15" stroke-dasharray="10.860 8.518" stroke-dashoffset="14.852"/>
<path d="M229.20 390.04 L229.22 390.04 L230.72 390.27 L232.21 390.48 L233.70 390.67 L235.20 390.85 L236.69 391.02 L238.19 391.15 L239.69 391.27 L241.18 391.36 L242.68 391.45 L244.18 391.53 L245.68 391.61 L247.18 391.69 L248.69 391.77 L250.19 391.84 L251.69 391.91 L253.20 391.97 L254.70 392.03 L256.21 392.09 L257.71 392.15 L259.22 392.20 L260.72 392.25 L262.23 392.30 L263.74 392.35 L265.24 392.39 L266.75 392.43 L268.25 392.46 L269.76 392.49 L271.27 392.52 L272.77 392.55 L274.28 392.58 L275.78 392.60 L277.29 392.62 L278.79 392.64 L280.30 392.65 L281.80 392.67 L283.31 392.69 L284.81 392.71 L286.32 392.72 L287.82 392.74 L289.33 392.75 L290.83 392.76 L292.34 392.77 L293.84 392.78 L295.35 392.79 L296.85 392.80 L298.36 392.80 L299.86 392.80 L301.37 392.80 L302.87 392.79 L304.38 392.78 L305.88 392.77 L307.39 392.76 L308.89 392.74 L310.40 392.71 L311.90 392.69 L313.41 392.66 L314.91 392.63 L316.42 392.60 L317.92 392.56 L319.43 392.53 L320.93 392.49 L322.44 392.44 L323.94 392.40 L325.45 392.36 L326.95 392.31 L328.45 392.26 L329.96 392.21 L331.46 392.16 L332.97 392.11 L334.47 392.06 L335.98 392.00 L337.48 391.95 L338.99 391.90 L340.49 391.84 L341.99 391.79 L343.50 391.73 L345.00 391.68 L346.51 391.62 L348.01 391.57 L349.51 391.52 L351.02 391.46 L352.52 391.41 L354.03 391.35 L355.53 391.28 L357.03 391.22 L358.54 391.15 L360.04 391.08 L361.54 391.00 L363.05 390.93 L364.55 390.85 L366.05 390.77 L367.56 390.69 L369.06 390.61 L370.56 390.53 L372.07 390.44 L373.57 390.36 L375.07 390.27 L376.57 390.19 L378.08 390.11 L379.58 390.02 L381.08 389.94 L382.59 389.86 L384.09 389.77 L385.59 389.68 L387.09 389.60 L388.60 389.51 L390.10 389.42 L391.60 389.33 L393.10 389.24 L394.61 389.15 L396.11 389.06 L397.61 388.96 L399.11 388.87 L400.61 388.77 L402.12 388.68 L403.62 388.58 L405.12 388.49 L406.62 388.39 L408.12 388.29 L409.63 388.19 L411.13 388.09 L412.63 387.99 L414.13 387.89 L415.63 387.79 L417.14 387.69 L418.64 387.59 L420.14 387.49 L421.64 387.39 L423.14 387.28 L424.64 387.18 L426.14 387.07 L427.65 386.96 L429.15 386.85 L430.65 386.74 L432.15 386.63 L433.65 386.52 L435.15 386.41 L436.65 386.30 L438.15 386.18 L439.65 386.07 L441.15 385.96 L442.65 385.85 L444.16 385.73 L445.66 385.62 L447.16 385.51 L448.66 385.40 L450.16 385.29 L451.66 385.18 L453.16 385.06 L454.66 384.95 L456.16 384.84 L457.66 384.72 L459.17 384.61 L460.67 384.49 L462.17 384.37 L463.67 384.26 L465.17 384.14 L466.67 384.03 L468.17 383.92 L469.67 383.81 L471.17 383.70 L472.67 383.59 L474.17 383.48 L475.68 383.38 L477.18 383.28 L478.68 383.18 L480.18 383.09 L481.68 383.00 L483.19 382.91 L484.69 382.82 L486.19 382.74 L487.69 382.66 L489.20 382.58 L490.70 382.50 L492.20 382.42 L493.71 382.34 L495.21 382.27 L496.71 382.19 L498.22 382.12 L499.72 382.04 L501.22 381.97 L502.73 381.90 L504.23 381.82 L505.73 381.75 L507.24 381.68 L508.74 381.60 L510.24 381.52 L511.75 381.45 L513.25 381.37 L514.75 381.29 L516.26 381.21 L517.76 381.13 L519.26 381.04 L520.76 380.96 L522.27 380.87 L523.77 380.78 L525.27 380.69 L526.77 380.60 L528.27 380.51 L529.78 380.41 L531.28 380.32 L532.78 380.23 L534.28 380.13 L535.79 380.04 L537.29 379.94 L538.79 379.84 L540.29 379.75 L541.79 379.65 L543.30 379.55 L544.80 379.45 L546.30 379.35 L547.80 379.25 L549.30 379.15 L550.80 379.05 L552.31 378.95 L553.81 378.85 L555.31 378.75 L556.81 378.65 L558.31 378.55 L559.81 378.45 L561.32 378.34 L562.82 378.24 L564.32 378.14 L565.82 378.04 L567.32 377.94 L568.83 377.84 L570.33 377.74 L571.83 377.64 L573.33 377.54 L574.83 377.44 L576.33 377.34 L577.84 377.24 L579.34 377.14 L580.84 377.05 L582.34 376.95 L583.84 376.85 L585.35 376.75 L586.85 376.66 L588.35 376.56 L589.85 376.46 L591.35 376.36 L592.86 376.26 L594.36 376.17 L595.86 376.07 L597.36 375.97 L598.86 375.87 L600.37 375.78 L601.87 375.68 L603.37 375.58 L604.87 375.48 L606.37 375.39 L607.87 375.29 L609.38 375.19 L610.88 375.09 L612.38 375.00 L613.88 374.90 L615.38 374.80 L616.89 374.70 L618.39 374.61 L619.89 374.51 L621.39 374.41 L622.89 374.31 L624.40 374.21 L625.90 374.12 L627.40 374.02 L628.90 373.92 L630.40 373.82 L631.91 373.72 L633.41 373.63 L634.91 373.53 L636.41 373.43 L637.91 373.33 L639.42 373.23 L640.92 373.14 L642.42 373.04 L643.92 372.94 L645.42 372.84 L646.92 372.74 L648.43 372.65 L649.93 372.55 L651.43 372.45 L652.93 372.35 L654.43 372.25 L655.94 372.16 L657.44 372.06 L658.94 371.96 L660.44 371.86 L661.94 371.76 L663.45 371.67 L664.95 371.57 L666.45 371.47 L667.95 371.37 L669.45 371.27 L670.96 371.18 L672.46 371.08 L673.96 370.98 L675.46 370.88 L676.96 370.78 L678.46 370.69 L679.97 370.59 L681.47 370.49 L682.97 370.39 L684.47 370.29 L685.97 370.20 L687.48 370.10 L688.98 370.00 L690.48 369.90 L691.98 369.80 L693.48 369.70 L694.99 369.61 L696.49 369.51 L697.99 369.41 L699.49 369.31 L700.99 369.21 L702.49 369.12 L704.00 369.02 L705.50 368.92 L707.00 368.82 L708.50 368.72 L710.00 368.62 L711.51 368.53 L713.01 368.43 L714.51 368.33 L716.01 368.23 L717.51 368.13 L719.02 368.03 L720.52 367.94 L722.02 367.84 L723.52 367.74 L725.02 367.64 L726.53 367.54 L728.03 367.44 L729.53 367.35 L731.03 367.25 L732.53 367.15 L734.03 367.05 L735.54 366.95 L737.04 366.85 L738.54 366.76 L740.04 366.66 L741.54 366.56 L743.05 366.46 L744.55 366.36 L746.05 366.26 L747.55 366.16 L749.05 366.07 L750.56 365.97 L752.06 365.87 L753.56 365.77 L755.06 365.67 L756.56 365.57 L758.06 365.47 L759.57 365.38 L761.07 365.28 L762.57 365.18 L764.07 365.08 L765.57 364.98 L767.08 364.88 L768.58 364.78 L770.08 364.69 L771.58 364.59 L773.08 364.49 L774.59 364.39 L776.09 364.29 L777.59 364.19 L779.09 364.09 L780.59 364.00 L782.09 363.90 L783.60 363.80 L785.10 363.70 L786.60 363.60" stroke="#00ff00" stroke-width="1.15" stroke-dasharray="10.906 8.555" stroke-dashoffset="0.000"/>
</g>
<g stroke="#000" stroke-width="1.0" fill="none">
<rect x="90.40" y="45.00" width="696.15" height="696.40"/>
<path d="M118.25 741.40v-5.90M118.25 45.00v5.90M146.09 741.40v-5.90M146.09 45.00v5.90M173.94 741.40v-5.90M173.94 45.00v5.90M201.78 741.40v-5.90M201.78 45.00v5.90M229.63 741.40v-11.80M229.63 45.00v11.80M257.48 741.40v-5.90M257.48 45.00v5.90M285.32 741.40v-5.90M285.32 45.00v5.90M313.17 741.40v-5.90M313.17 45.00v5.90M341.01 741.40v-5.90M341.01 45.00v5.90M368.86 741.40v-11.80M368.86 45.00v11.80M396.71 741.40v-5.90M396.71 45.00v5.90M424.55 741.40v-5.90M424.55 45.00v5.90M452.40 741.40v-5.90M452.40 45.00v5.90M480.24 741.40v-5.90M480.24 45.00v5.90M508.09 741.40v-11.80M508.09 45.00v11.80M535.94 741.40v-5.90M535.94 45.00v5.90M563.78 741.40v-5.90M563.78 45.00v5.90M591.63 741.40v-5.90M591.63 45.00v5.90M619.47 741.40v-5.90M619.47 45.00v5.90M647.32 741.40v-11.80M647.32 45.00v11.80M675.17 741.40v-5.90M675.17 45.00v5.90M703.01 741.40v-5.90M703.01 45.00v5.90M730.86 741.40v-5.90M730.86 45.00v5.90M758.70 741.40v-5.90M758.70 45.00v5.90M90.40 697.88h5.90M786.55 697.88h-5.90M90.40 654.35h5.90M786.55 654.35h-5.90M90.40 610.83h5.90M786.55 610.83h-5.90M90.40 567.30h5.90M786.55 567.30h-5.90M90.40 523.77h11.80M786.55 523.77h-11.80M90.40 480.25h5.90M786.55 480.25h-5.90M90.40 436.72h5.90M786.55 436.72h-5.90M90.40 393.20h5.90M786.55 393.20h-5.90M90.40 349.68h5.90M786.55 349.68h-5.90M90.40 306.15h11.80M786.55 306.15h-11.80M90.40 262.62h5.90M786.55 262.62h-5.90M90.40 219.10h5.90M786.55 219.10h-5.90M90.40 175.57h5.90M786.55 175.57h-5.90M90.40 132.05h5.90M786.55 132.05h-5.90M90.40 88.53h11.80M786.55 88.53h-11.80"/>
</g>
<g font-family="'Liberation Sans', sans-serif" font-size="18.6" fill="#000">
<text transform="translate(90.40 770.8) scale(1 1.09)" text-anchor="middle">400</text>
<text transform="translate(229.63 770.8) scale(1 1.09)" text-anchor="middle">500</text>
<text transform="translate(368.86 770.8) scale(1 1.09)" text-anchor="middle">600</text>
<text transform="translate(508.09 770.8) scale(1 1.09)" text-anchor="middle">700</text>
<text transform="translate(647.32 770.8) scale(1 1.09)" text-anchor="middle">800</text>
<text transform="translate(786.55 770.8) scale(1 1.09)" text-anchor="middle">900</text>
<text transform="translate(79.9 533.88) scale(1 1.09)" text-anchor="end">2</text>
<text transform="translate(79.9 316.25) scale(1 1.09)" text-anchor="end">3</text>
<text transform="translate(79.9 98.63) scale(1 1.09)" text-anchor="end">4</text>
</g>
<path d="M76.75 750.9H75.05V740.7C74.0 741.7 72.6 742.5 71.2 743.0V741.4C73.2 740.6 74.8 739.3 75.65 737.7H76.75Z" fill="#000"/>
<g fill="none">
<path d="M125.00 602.40H229.63" stroke="#000" stroke-width="1.1"/>
<path d="M125.00 637.00H229.63" stroke="#000" stroke-width="1.25" stroke-dasharray="1.5 4.76" stroke-dashoffset="-0.45"/>
<path d="M125.00 671.60H229.63" stroke="#000" stroke-width="1.1" stroke-dasharray="11.2 8.3"/>
<path d="M647.00 602.40H751.74" stroke="#00ff00" stroke-width="1.15"/>
<path d="M647.00 637.00H751.74" stroke="#0000ff" stroke-width="1.15"/>
<path d="M647.00 671.60H751.74" stroke="#00ffff" stroke-width="1.15"/>
</g>
<g font-family="'Liberation Serif', serif" font-size="14.90" fill="#000"><text transform="translate(250.63 607.10) scale(1.188 1.260)">[</text><text transform="translate(257.14 606.40) scale(1.260 1.000)">F</text><text transform="translate(266.89 606.40) scale(1.197 1.000)">e</text><text transform="translate(286.34 606.40) scale(1.033 1.000)">H</text><text transform="translate(297.79 607.10) scale(1.163 1.260)">]</text><text transform="translate(304.66 606.40) scale(1.256 1.000)" stroke="#000" stroke-width="0.20">=</text><text transform="translate(315.78 606.40) scale(1.469 1.000)">0</text><text transform="translate(326.02 606.40) scale(1.119 1.000)">.</text><text transform="translate(329.82 606.40) scale(1.390 1.000)">0</text></g>
<g font-family="'Liberation Serif', serif" font-size="14.90" fill="#000"><text transform="translate(250.63 641.90) scale(1.188 1.260)">[</text><text transform="translate(257.14 641.20) scale(1.260 1.000)">F</text><text transform="translate(266.89 641.20) scale(1.197 1.000)">e</text><text transform="translate(286.34 641.20) scale(1.033 1.000)">H</text><text transform="translate(297.79 641.90) scale(1.163 1.260)">]</text><text transform="translate(304.66 641.20) scale(1.256 1.000)" stroke="#000" stroke-width="0.20">=</text><text transform="translate(316.61 641.20) scale(1.328 1.000)" stroke="#000" stroke-width="0.20">−</text><text transform="translate(328.41 641.20) scale(1.405 1.000)">0</text><text transform="translate(338.32 641.20) scale(1.119 1.000)">.</text><text transform="translate(341.83 641.20) scale(1.443 1.000)">2</text></g>
<g font-family="'Liberation Serif', serif" font-size="14.90" fill="#000"><text transform="translate(250.63 676.70) scale(1.188 1.260)">[</text><text transform="translate(257.14 676.00) scale(1.260 1.000)">F</text><text transform="translate(266.89 676.00) scale(1.197 1.000)">e</text><text transform="translate(286.34 676.00) scale(1.033 1.000)">H</text><text transform="translate(297.79 676.70) scale(1.163 1.260)">]</text><text transform="translate(304.66 676.00) scale(1.256 1.000)" stroke="#000" stroke-width="0.20">=</text><text transform="translate(317.05 676.00) scale(1.270 1.000)" stroke="#000" stroke-width="0.20">+</text><text transform="translate(328.41 676.00) scale(1.405 1.000)">0</text><text transform="translate(338.32 676.00) scale(1.119 1.000)">.</text><text transform="translate(341.83 676.00) scale(1.443 1.000)">2</text></g>
<path d="M276.7 609.60L286.0 594.20" stroke="#000" stroke-width="0.95" fill="none"/>
<path d="M276.7 644.40L286.0 629.00" stroke="#000" stroke-width="0.95" fill="none"/>
<path d="M276.7 679.20L286.0 663.80" stroke="#000" stroke-width="0.95" fill="none"/>
<g font-family="'Liberation Serif', serif" font-size="14.90" fill="#000"><text transform="translate(568.41 605.70) scale(1.142 1.000)">1</text><text transform="translate(577.12 605.70) scale(1.007 1.000)">.</text><text transform="translate(581.42 605.70) scale(1.309 1.000)">2</text><text transform="translate(590.49 605.70) scale(1.022 1.000)">G</text><text transform="translate(601.37 605.70) scale(1.252 1.000)">y</text><text transform="translate(610.73 605.70) scale(1.584 1.000)">r</text></g>
<g font-family="'Liberation Serif', serif" font-size="14.90" fill="#000"><text transform="translate(567.29 640.30) scale(1.359 1.000)">2</text><text transform="translate(577.12 640.30) scale(1.007 1.000)">.</text><text transform="translate(581.19 640.30) scale(1.301 1.000)">5</text><text transform="translate(590.49 640.30) scale(1.022 1.000)">G</text><text transform="translate(601.37 640.30) scale(1.252 1.000)">y</text><text transform="translate(610.73 640.30) scale(1.584 1.000)">r</text></g>
<g font-family="'Liberation Serif', serif" font-size="14.90" fill="#000"><text transform="translate(567.04 675.00) scale(1.351 1.000)">5</text><text transform="translate(577.12 675.00) scale(1.007 1.000)">.</text><text transform="translate(580.93 675.00) scale(1.374 1.000)">0</text><text transform="translate(590.49 675.00) scale(1.022 1.000)">G</text><text transform="translate(601.37 675.00) scale(1.252 1.000)">y</text><text transform="translate(610.73 675.00) scale(1.584 1.000)">r</text></g>
<g fill="none" stroke="#0000ff" stroke-width="1.5" stroke-linecap="butt">
<path d="M444.6 660.2V682.7" stroke-width="1.9"/>
<path d="M440.7 660.2H451.3C455.9 660.2 458.0 662.7 458.0 665.5C458.0 668.4 455.9 670.9 451.3 670.9H444.6M451.3 670.9C457.2 670.9 460.0 673.5 460.0 676.8C460.0 680.1 457.2 682.7 451.3 682.7H440.7" stroke-width="1.25"/>
</g>
<path fill-rule="evenodd" fill="#0000ff" d="M473.8 659.1C478.2 659.1 481.3 664.4 481.3 671.3C481.3 678.2 478.2 683.5 473.8 683.5C469.4 683.5 466.3 678.2 466.3 671.3C466.3 664.4 469.4 659.1 473.8 659.1ZM473.8 660.2C470.7 660.2 468.5 664.6 468.5 671.3C468.5 678.0 470.7 682.4 473.8 682.4C476.9 682.4 479.1 678.0 479.1 671.3C479.1 664.6 476.9 660.2 473.8 660.2Z"/>
<path fill-rule="evenodd" fill="#0000ff" d="M496.3 659.1C501.1 659.1 504.8 663.3 504.8 669.8C504.8 678.2 500.6 683.5 495.4 683.5C492.3 683.5 490.3 681.8 490.3 679.7C490.3 678.6 491.1 677.9 492.0 677.9C492.9 677.9 493.6 678.5 493.6 679.4C493.6 680.0 493.3 680.4 493.3 680.9C493.3 681.8 494.3 682.4 495.5 682.4C499.3 682.4 502.4 678.0 502.6 671.0C501.3 673.4 499.0 674.7 496.2 674.7C491.7 674.7 488.2 671.4 488.2 666.9C488.2 662.4 491.7 659.1 496.3 659.1ZM496.3 660.2C493.0 660.2 490.5 662.8 490.5 666.9C490.5 671.0 493.0 673.6 496.3 673.6C499.6 673.6 502.5 671.2 502.5 667.5C502.5 663.2 499.8 660.2 496.3 660.2Z"/>
<path d="M391.14 709.40H555.43" stroke="#0000ff" stroke-width="1.25" fill="none"/>
<polygon points="473.25,702.90 479.53,707.46 477.13,714.84 469.37,714.84 466.97,707.46" fill="#0000ff"/>
<g font-family="'Liberation Serif', serif" font-size="18.90" fill="#000"><text transform="translate(390.41 794.60) scale(0.793 1.000)">V</text><text transform="translate(419.43 794.20) scale(1.141 1.085)">(</text><text transform="translate(427.49 794.60) scale(1.207 1.000)" stroke="#fff" stroke-width="0.22">k</text><text transform="translate(438.43 794.60) scale(1.233 1.000)" stroke="#fff" stroke-width="0.22">m</text><text transform="translate(469.01 794.60) scale(1.439 1.000)" stroke="#fff" stroke-width="0.22">s</text><text transform="translate(479.52 794.20) scale(1.110 1.085)">)</text></g>
<path d="M458.4 798.2L468.5 780.5" stroke="#000" stroke-width="1.0" fill="none"/>
<circle cx="406" cy="796.6" r="3.65" fill="none" stroke="#000" stroke-width="0.9"/>
<circle cx="406" cy="796.6" r="1.0" fill="#000"/>
<g transform="translate(55.95 475.3) rotate(-90)">
<g font-family="'Liberation Serif', serif" font-size="18.90" fill="#000"><text transform="translate(-0.14 0.00) scale(0.956 1.000)">L</text><text transform="translate(10.47 0.00) scale(1.170 1.000)" stroke="#fff" stroke-width="0.22">o</text><text transform="translate(20.60 0.00) scale(1.125 1.000)">g</text><text transform="translate(32.00 -0.30) scale(1.058 1.130)">(</text><text transform="translate(39.68 0.00) scale(0.925 1.000)">Γ</text><text transform="translate(48.82 1.00) scale(1.118 1.230)">[</text><text transform="translate(57.13 0.00) scale(0.835 1.000)">M</text><text transform="translate(71.45 0.00) scale(1.064 1.000)">y</text><text transform="translate(81.86 0.00) scale(1.422 1.000)" stroke="#fff" stroke-width="0.22">r</text><text transform="translate(100.58 0.00) scale(1.239 1.000)" stroke="#fff" stroke-width="0.22">d</text><text transform="translate(112.41 0.00) scale(1.316 1.000)" stroke="#fff" stroke-width="0.22">e</text><text transform="translate(124.32 0.00) scale(0.964 1.000)">x</text><text transform="translate(134.42 1.00) scale(1.035 1.230)">]</text><text transform="translate(157.13 -0.30) scale(1.089 1.130)">)</text></g>
<g font-family="'Liberation Serif', serif" font-size="11.20" fill="#000"><text transform="translate(141.62 -5.90) scale(1.210 1.000)" stroke="#000" stroke-width="0.30">−</text><text transform="translate(150.38 -5.90) scale(0.937 1.000)">1</text></g>
</g>
</svg>
</body></html>
